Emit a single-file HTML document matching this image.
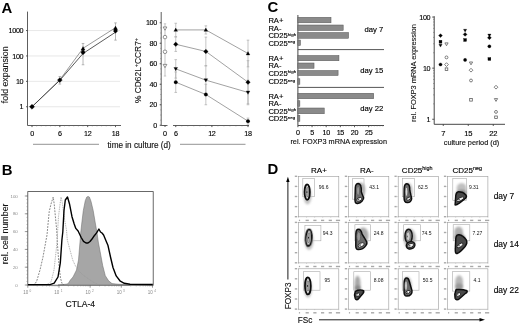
<!DOCTYPE html>
<html><head><meta charset="utf-8"><style>
html,body{margin:0;padding:0;background:#fff;}
svg{display:block;filter:blur(0.3px);font-family:"Liberation Sans", sans-serif;}
</style></head><body>
<svg width="520" height="324" viewBox="0 0 520 324">
<rect width="520" height="324" fill="#fff"/>
<text x="1.40" y="12.60" font-size="14.9" text-anchor="start" font-weight="bold" fill="#000" >A</text>
<line x1="27.50" y1="106.75" x2="120.00" y2="106.75" stroke="#d8d8d8" stroke-width="0.6" />
<line x1="27.50" y1="81.35" x2="120.00" y2="81.35" stroke="#d8d8d8" stroke-width="0.6" />
<line x1="27.50" y1="55.95" x2="120.00" y2="55.95" stroke="#d8d8d8" stroke-width="0.6" />
<line x1="27.50" y1="30.55" x2="120.00" y2="30.55" stroke="#d8d8d8" stroke-width="0.6" />
<line x1="27.50" y1="11.60" x2="27.50" y2="125.50" stroke="#555" stroke-width="0.95" />
<line x1="27.50" y1="125.50" x2="121.00" y2="125.50" stroke="#555" stroke-width="0.95" />
<line x1="26.00" y1="106.75" x2="27.50" y2="106.75" stroke="#333" stroke-width="0.8" />
<text x="23.30" y="109.35" font-size="7.2" text-anchor="end" font-weight="normal" fill="#000" stroke="#000" stroke-width="0.14" letter-spacing="-0.3">1</text>
<line x1="26.00" y1="81.35" x2="27.50" y2="81.35" stroke="#333" stroke-width="0.8" />
<text x="23.30" y="83.95" font-size="7.2" text-anchor="end" font-weight="normal" fill="#000" stroke="#000" stroke-width="0.14" letter-spacing="-0.3">10</text>
<line x1="26.00" y1="55.95" x2="27.50" y2="55.95" stroke="#333" stroke-width="0.8" />
<text x="23.30" y="58.55" font-size="7.2" text-anchor="end" font-weight="normal" fill="#000" stroke="#000" stroke-width="0.14" letter-spacing="-0.3">100</text>
<line x1="26.00" y1="30.55" x2="27.50" y2="30.55" stroke="#333" stroke-width="0.8" />
<text x="23.30" y="33.15" font-size="7.2" text-anchor="end" font-weight="normal" fill="#000" stroke="#000" stroke-width="0.14" letter-spacing="-0.3">1000</text>
<line x1="32.00" y1="125.50" x2="32.00" y2="127.10" stroke="#333" stroke-width="0.8" />
<text x="32.00" y="136.20" font-size="7.2" text-anchor="middle" font-weight="normal" fill="#000" stroke="#000" stroke-width="0.14" letter-spacing="-0.3">0</text>
<line x1="59.83" y1="125.50" x2="59.83" y2="127.10" stroke="#333" stroke-width="0.8" />
<text x="59.83" y="136.20" font-size="7.2" text-anchor="middle" font-weight="normal" fill="#000" stroke="#000" stroke-width="0.14" letter-spacing="-0.3">6</text>
<line x1="87.67" y1="125.50" x2="87.67" y2="127.10" stroke="#333" stroke-width="0.8" />
<text x="87.67" y="136.20" font-size="7.2" text-anchor="middle" font-weight="normal" fill="#000" stroke="#000" stroke-width="0.14" letter-spacing="-0.3">12</text>
<line x1="115.50" y1="125.50" x2="115.50" y2="127.10" stroke="#333" stroke-width="0.8" />
<text x="115.50" y="136.20" font-size="7.2" text-anchor="middle" font-weight="normal" fill="#000" stroke="#000" stroke-width="0.14" letter-spacing="-0.3">18</text>
<line x1="32.00" y1="125.50" x2="32.00" y2="126.40" stroke="#666" stroke-width="0.5" />
<line x1="36.64" y1="125.50" x2="36.64" y2="126.40" stroke="#666" stroke-width="0.5" />
<line x1="41.28" y1="125.50" x2="41.28" y2="126.40" stroke="#666" stroke-width="0.5" />
<line x1="45.92" y1="125.50" x2="45.92" y2="126.40" stroke="#666" stroke-width="0.5" />
<line x1="50.56" y1="125.50" x2="50.56" y2="126.40" stroke="#666" stroke-width="0.5" />
<line x1="55.19" y1="125.50" x2="55.19" y2="126.40" stroke="#666" stroke-width="0.5" />
<line x1="59.83" y1="125.50" x2="59.83" y2="126.40" stroke="#666" stroke-width="0.5" />
<line x1="64.47" y1="125.50" x2="64.47" y2="126.40" stroke="#666" stroke-width="0.5" />
<line x1="69.11" y1="125.50" x2="69.11" y2="126.40" stroke="#666" stroke-width="0.5" />
<line x1="73.75" y1="125.50" x2="73.75" y2="126.40" stroke="#666" stroke-width="0.5" />
<line x1="78.39" y1="125.50" x2="78.39" y2="126.40" stroke="#666" stroke-width="0.5" />
<line x1="83.03" y1="125.50" x2="83.03" y2="126.40" stroke="#666" stroke-width="0.5" />
<line x1="87.67" y1="125.50" x2="87.67" y2="126.40" stroke="#666" stroke-width="0.5" />
<line x1="92.31" y1="125.50" x2="92.31" y2="126.40" stroke="#666" stroke-width="0.5" />
<line x1="96.94" y1="125.50" x2="96.94" y2="126.40" stroke="#666" stroke-width="0.5" />
<line x1="101.58" y1="125.50" x2="101.58" y2="126.40" stroke="#666" stroke-width="0.5" />
<line x1="106.22" y1="125.50" x2="106.22" y2="126.40" stroke="#666" stroke-width="0.5" />
<line x1="110.86" y1="125.50" x2="110.86" y2="126.40" stroke="#666" stroke-width="0.5" />
<line x1="115.50" y1="125.50" x2="115.50" y2="126.40" stroke="#666" stroke-width="0.5" />
<text x="0.00" y="0.00" font-size="1" text-anchor="start" font-weight="normal" fill="#000" ></text>
<text transform="translate(7.7,74.8) rotate(-90)" font-size="8.8" fill="#111" stroke="#111" stroke-width="0.1" text-anchor="middle">fold expansion</text>
<line x1="59.83" y1="76.52" x2="59.83" y2="84.09" stroke="#999" stroke-width="0.7" />
<line x1="58.53" y1="76.52" x2="61.13" y2="76.52" stroke="#999" stroke-width="0.7" />
<line x1="58.53" y1="84.09" x2="61.13" y2="84.09" stroke="#999" stroke-width="0.7" />
<line x1="83.03" y1="43.47" x2="83.03" y2="64.76" stroke="#999" stroke-width="0.7" />
<line x1="81.73" y1="43.47" x2="84.33" y2="43.47" stroke="#999" stroke-width="0.7" />
<line x1="81.73" y1="64.76" x2="84.33" y2="64.76" stroke="#999" stroke-width="0.7" />
<line x1="115.50" y1="22.90" x2="115.50" y2="40.12" stroke="#999" stroke-width="0.7" />
<line x1="114.20" y1="22.90" x2="116.80" y2="22.90" stroke="#999" stroke-width="0.7" />
<line x1="114.20" y1="40.12" x2="116.80" y2="40.12" stroke="#999" stroke-width="0.7" />
<path d="M32.00 106.75 L59.83 79.81 L83.03 48.30 L115.50 27.66" fill="none" stroke="#777" stroke-width="0.75"/>
<path d="M32.00 106.75 L59.83 80.30 L83.03 53.49 L115.50 32.21" fill="none" stroke="#222" stroke-width="0.75"/>
<path d="M32.00 104.15L34.60 106.75L32.00 109.35L29.40 106.75Z" fill="#000" stroke="#000" stroke-width="0.3"/>
<path d="M59.83 77.63L62.30 80.10L59.83 82.57L57.36 80.10Z" fill="#000" stroke="#000" stroke-width="0.3"/>
<path d="M83.03 46.58L85.03 50.08L81.03 50.08Z" fill="#000" stroke="#000" stroke-width="0.3"/>
<path d="M83.03 50.43L85.24 52.64L83.03 54.85L80.82 52.64Z" fill="#000" stroke="#000" stroke-width="0.3"/>
<circle cx="83.03" cy="51.48" r="1.50" fill="#000" stroke="#000" stroke-width="0.3"/>
<path d="M115.50 26.09L117.50 29.59L113.50 29.59Z" fill="#000" stroke="#000" stroke-width="0.3"/>
<path d="M115.50 28.91L117.71 31.12L115.50 33.33L113.29 31.12Z" fill="#000" stroke="#000" stroke-width="0.3"/>
<circle cx="115.50" cy="30.01" r="1.50" fill="#000" stroke="#000" stroke-width="0.3"/>
<line x1="161.20" y1="12.00" x2="161.20" y2="125.50" stroke="#555" stroke-width="0.95" />
<line x1="161.20" y1="125.50" x2="167.50" y2="125.50" stroke="#555" stroke-width="0.95" />
<line x1="173.00" y1="125.50" x2="249.00" y2="125.50" stroke="#555" stroke-width="0.95" />
<line x1="159.70" y1="125.25" x2="161.20" y2="125.25" stroke="#333" stroke-width="0.8" />
<text x="157.00" y="127.85" font-size="7.2" text-anchor="end" font-weight="normal" fill="#000" stroke="#000" stroke-width="0.14" letter-spacing="-0.3">0</text>
<line x1="159.70" y1="104.75" x2="161.20" y2="104.75" stroke="#333" stroke-width="0.8" />
<text x="157.00" y="107.35" font-size="7.2" text-anchor="end" font-weight="normal" fill="#000" stroke="#000" stroke-width="0.14" letter-spacing="-0.3">20</text>
<line x1="159.70" y1="84.25" x2="161.20" y2="84.25" stroke="#333" stroke-width="0.8" />
<text x="157.00" y="86.85" font-size="7.2" text-anchor="end" font-weight="normal" fill="#000" stroke="#000" stroke-width="0.14" letter-spacing="-0.3">40</text>
<line x1="159.70" y1="63.75" x2="161.20" y2="63.75" stroke="#333" stroke-width="0.8" />
<text x="157.00" y="66.35" font-size="7.2" text-anchor="end" font-weight="normal" fill="#000" stroke="#000" stroke-width="0.14" letter-spacing="-0.3">60</text>
<line x1="159.70" y1="43.25" x2="161.20" y2="43.25" stroke="#333" stroke-width="0.8" />
<text x="157.00" y="45.85" font-size="7.2" text-anchor="end" font-weight="normal" fill="#000" stroke="#000" stroke-width="0.14" letter-spacing="-0.3">80</text>
<line x1="159.70" y1="22.75" x2="161.20" y2="22.75" stroke="#333" stroke-width="0.8" />
<text x="157.00" y="25.35" font-size="7.2" text-anchor="end" font-weight="normal" fill="#000" stroke="#000" stroke-width="0.14" letter-spacing="-0.3">100</text>
<line x1="160.30" y1="125.25" x2="161.20" y2="125.25" stroke="#666" stroke-width="0.5" />
<line x1="160.30" y1="120.12" x2="161.20" y2="120.12" stroke="#666" stroke-width="0.5" />
<line x1="160.30" y1="115.00" x2="161.20" y2="115.00" stroke="#666" stroke-width="0.5" />
<line x1="160.30" y1="109.88" x2="161.20" y2="109.88" stroke="#666" stroke-width="0.5" />
<line x1="160.30" y1="104.75" x2="161.20" y2="104.75" stroke="#666" stroke-width="0.5" />
<line x1="160.30" y1="99.62" x2="161.20" y2="99.62" stroke="#666" stroke-width="0.5" />
<line x1="160.30" y1="94.50" x2="161.20" y2="94.50" stroke="#666" stroke-width="0.5" />
<line x1="160.30" y1="89.38" x2="161.20" y2="89.38" stroke="#666" stroke-width="0.5" />
<line x1="160.30" y1="84.25" x2="161.20" y2="84.25" stroke="#666" stroke-width="0.5" />
<line x1="160.30" y1="79.12" x2="161.20" y2="79.12" stroke="#666" stroke-width="0.5" />
<line x1="160.30" y1="74.00" x2="161.20" y2="74.00" stroke="#666" stroke-width="0.5" />
<line x1="160.30" y1="68.88" x2="161.20" y2="68.88" stroke="#666" stroke-width="0.5" />
<line x1="160.30" y1="63.75" x2="161.20" y2="63.75" stroke="#666" stroke-width="0.5" />
<line x1="160.30" y1="58.62" x2="161.20" y2="58.62" stroke="#666" stroke-width="0.5" />
<line x1="160.30" y1="53.50" x2="161.20" y2="53.50" stroke="#666" stroke-width="0.5" />
<line x1="160.30" y1="48.38" x2="161.20" y2="48.38" stroke="#666" stroke-width="0.5" />
<line x1="160.30" y1="43.25" x2="161.20" y2="43.25" stroke="#666" stroke-width="0.5" />
<line x1="160.30" y1="38.12" x2="161.20" y2="38.12" stroke="#666" stroke-width="0.5" />
<line x1="160.30" y1="33.00" x2="161.20" y2="33.00" stroke="#666" stroke-width="0.5" />
<line x1="160.30" y1="27.88" x2="161.20" y2="27.88" stroke="#666" stroke-width="0.5" />
<line x1="160.30" y1="22.75" x2="161.20" y2="22.75" stroke="#666" stroke-width="0.5" />
<line x1="165.00" y1="125.50" x2="165.00" y2="127.00" stroke="#333" stroke-width="0.8" />
<text x="165.00" y="136.20" font-size="7.2" text-anchor="middle" font-weight="normal" fill="#000" stroke="#000" stroke-width="0.14" >0</text>
<line x1="175.75" y1="125.50" x2="175.75" y2="127.10" stroke="#333" stroke-width="0.8" />
<text x="175.75" y="136.20" font-size="7.2" text-anchor="middle" font-weight="normal" fill="#000" stroke="#000" stroke-width="0.14" letter-spacing="-0.3">6</text>
<line x1="211.88" y1="125.50" x2="211.88" y2="127.10" stroke="#333" stroke-width="0.8" />
<text x="211.88" y="136.20" font-size="7.2" text-anchor="middle" font-weight="normal" fill="#000" stroke="#000" stroke-width="0.14" letter-spacing="-0.3">12</text>
<line x1="248.00" y1="125.50" x2="248.00" y2="127.10" stroke="#333" stroke-width="0.8" />
<text x="248.00" y="136.20" font-size="7.2" text-anchor="middle" font-weight="normal" fill="#000" stroke="#000" stroke-width="0.14" letter-spacing="-0.3">18</text>
<line x1="175.75" y1="125.50" x2="175.75" y2="126.40" stroke="#666" stroke-width="0.5" />
<line x1="181.77" y1="125.50" x2="181.77" y2="126.40" stroke="#666" stroke-width="0.5" />
<line x1="187.79" y1="125.50" x2="187.79" y2="126.40" stroke="#666" stroke-width="0.5" />
<line x1="193.81" y1="125.50" x2="193.81" y2="126.40" stroke="#666" stroke-width="0.5" />
<line x1="199.83" y1="125.50" x2="199.83" y2="126.40" stroke="#666" stroke-width="0.5" />
<line x1="205.85" y1="125.50" x2="205.85" y2="126.40" stroke="#666" stroke-width="0.5" />
<line x1="211.88" y1="125.50" x2="211.88" y2="126.40" stroke="#666" stroke-width="0.5" />
<line x1="217.90" y1="125.50" x2="217.90" y2="126.40" stroke="#666" stroke-width="0.5" />
<line x1="223.92" y1="125.50" x2="223.92" y2="126.40" stroke="#666" stroke-width="0.5" />
<line x1="229.94" y1="125.50" x2="229.94" y2="126.40" stroke="#666" stroke-width="0.5" />
<line x1="235.96" y1="125.50" x2="235.96" y2="126.40" stroke="#666" stroke-width="0.5" />
<line x1="241.98" y1="125.50" x2="241.98" y2="126.40" stroke="#666" stroke-width="0.5" />
<line x1="248.00" y1="125.50" x2="248.00" y2="126.40" stroke="#666" stroke-width="0.5" />
<text transform="translate(141.3,70.5) rotate(-90)" font-size="8.4" fill="#111" stroke="#111" stroke-width="0.1" text-anchor="middle">% CD62L<tspan font-size="5.5" dy="-3">+</tspan><tspan dy="3">CCR7</tspan><tspan font-size="5.5" dy="-3">+</tspan></text>
<line x1="175.75" y1="23.26" x2="175.75" y2="36.59" stroke="#aaa" stroke-width="0.7" />
<line x1="174.45" y1="23.26" x2="177.05" y2="23.26" stroke="#aaa" stroke-width="0.7" />
<line x1="174.45" y1="36.59" x2="177.05" y2="36.59" stroke="#aaa" stroke-width="0.7" />
<line x1="205.85" y1="25.83" x2="205.85" y2="34.03" stroke="#aaa" stroke-width="0.7" />
<line x1="204.55" y1="25.83" x2="207.15" y2="25.83" stroke="#aaa" stroke-width="0.7" />
<line x1="204.55" y1="34.03" x2="207.15" y2="34.03" stroke="#aaa" stroke-width="0.7" />
<line x1="248.00" y1="40.17" x2="248.00" y2="66.83" stroke="#aaa" stroke-width="0.7" />
<line x1="246.70" y1="40.17" x2="249.30" y2="40.17" stroke="#aaa" stroke-width="0.7" />
<line x1="246.70" y1="66.83" x2="249.30" y2="66.83" stroke="#aaa" stroke-width="0.7" />
<line x1="175.75" y1="37.10" x2="175.75" y2="51.45" stroke="#aaa" stroke-width="0.7" />
<line x1="174.45" y1="37.10" x2="177.05" y2="37.10" stroke="#aaa" stroke-width="0.7" />
<line x1="174.45" y1="51.45" x2="177.05" y2="51.45" stroke="#aaa" stroke-width="0.7" />
<line x1="205.85" y1="37.10" x2="205.85" y2="65.80" stroke="#aaa" stroke-width="0.7" />
<line x1="204.55" y1="37.10" x2="207.15" y2="37.10" stroke="#aaa" stroke-width="0.7" />
<line x1="204.55" y1="65.80" x2="207.15" y2="65.80" stroke="#aaa" stroke-width="0.7" />
<line x1="248.00" y1="60.67" x2="248.00" y2="103.72" stroke="#aaa" stroke-width="0.7" />
<line x1="246.70" y1="60.67" x2="249.30" y2="60.67" stroke="#aaa" stroke-width="0.7" />
<line x1="246.70" y1="103.72" x2="249.30" y2="103.72" stroke="#aaa" stroke-width="0.7" />
<line x1="175.75" y1="59.65" x2="175.75" y2="78.10" stroke="#aaa" stroke-width="0.7" />
<line x1="174.45" y1="59.65" x2="177.05" y2="59.65" stroke="#aaa" stroke-width="0.7" />
<line x1="174.45" y1="78.10" x2="177.05" y2="78.10" stroke="#aaa" stroke-width="0.7" />
<line x1="205.85" y1="65.80" x2="205.85" y2="94.50" stroke="#aaa" stroke-width="0.7" />
<line x1="204.55" y1="65.80" x2="207.15" y2="65.80" stroke="#aaa" stroke-width="0.7" />
<line x1="204.55" y1="94.50" x2="207.15" y2="94.50" stroke="#aaa" stroke-width="0.7" />
<line x1="248.00" y1="80.15" x2="248.00" y2="104.75" stroke="#aaa" stroke-width="0.7" />
<line x1="246.70" y1="80.15" x2="249.30" y2="80.15" stroke="#aaa" stroke-width="0.7" />
<line x1="246.70" y1="104.75" x2="249.30" y2="104.75" stroke="#aaa" stroke-width="0.7" />
<line x1="175.75" y1="71.95" x2="175.75" y2="92.45" stroke="#aaa" stroke-width="0.7" />
<line x1="174.45" y1="71.95" x2="177.05" y2="71.95" stroke="#aaa" stroke-width="0.7" />
<line x1="174.45" y1="92.45" x2="177.05" y2="92.45" stroke="#aaa" stroke-width="0.7" />
<line x1="205.85" y1="84.25" x2="205.85" y2="104.75" stroke="#aaa" stroke-width="0.7" />
<line x1="204.55" y1="84.25" x2="207.15" y2="84.25" stroke="#aaa" stroke-width="0.7" />
<line x1="204.55" y1="104.75" x2="207.15" y2="104.75" stroke="#aaa" stroke-width="0.7" />
<line x1="248.00" y1="118.08" x2="248.00" y2="124.22" stroke="#aaa" stroke-width="0.7" />
<line x1="246.70" y1="118.08" x2="249.30" y2="118.08" stroke="#aaa" stroke-width="0.7" />
<line x1="246.70" y1="124.22" x2="249.30" y2="124.22" stroke="#aaa" stroke-width="0.7" />
<path d="M175.75 29.92 L205.85 29.92 L248.00 53.50" fill="none" stroke="#8a8a8a" stroke-width="0.8"/>
<path d="M175.75 44.28 L205.85 51.45 L248.00 82.20" fill="none" stroke="#8a8a8a" stroke-width="0.8"/>
<path d="M175.75 68.88 L205.85 80.15 L248.00 92.45" fill="none" stroke="#8a8a8a" stroke-width="0.8"/>
<path d="M175.75 82.20 L205.85 94.50 L248.00 121.15" fill="none" stroke="#8a8a8a" stroke-width="0.8"/>
<path d="M175.75 28.05L177.62 31.33L173.88 31.33Z" fill="#000" stroke="#000" stroke-width="0.3"/>
<path d="M205.85 28.05L207.73 31.33L203.98 31.33Z" fill="#000" stroke="#000" stroke-width="0.3"/>
<path d="M248.00 51.62L249.88 54.91L246.12 54.91Z" fill="#000" stroke="#000" stroke-width="0.3"/>
<path d="M175.75 42.00L178.03 44.28L175.75 46.55L173.47 44.28Z" fill="#000" stroke="#000" stroke-width="0.3"/>
<path d="M205.85 49.18L208.13 51.45L205.85 53.73L203.58 51.45Z" fill="#000" stroke="#000" stroke-width="0.3"/>
<path d="M248.00 79.92L250.28 82.20L248.00 84.48L245.72 82.20Z" fill="#000" stroke="#000" stroke-width="0.3"/>
<path d="M175.75 70.75L177.62 67.47L173.88 67.47Z" fill="#000" stroke="#000" stroke-width="0.3"/>
<path d="M205.85 82.03L207.73 78.74L203.98 78.74Z" fill="#000" stroke="#000" stroke-width="0.3"/>
<path d="M248.00 94.33L249.88 91.04L246.12 91.04Z" fill="#000" stroke="#000" stroke-width="0.3"/>
<circle cx="175.75" cy="82.20" r="1.75" fill="#000" stroke="#000" stroke-width="0.3"/>
<circle cx="205.85" cy="94.50" r="1.75" fill="#000" stroke="#000" stroke-width="0.3"/>
<circle cx="248.00" cy="121.15" r="1.75" fill="#000" stroke="#000" stroke-width="0.3"/>
<line x1="165.00" y1="23.78" x2="165.00" y2="76.05" stroke="#aaa" stroke-width="0.7" />
<line x1="163.80" y1="23.78" x2="166.20" y2="23.78" stroke="#aaa" stroke-width="0.6" />
<line x1="163.80" y1="76.05" x2="166.20" y2="76.05" stroke="#aaa" stroke-width="0.6" />
<path d="M165.00 30.26L166.88 26.98L163.12 26.98Z" fill="#fff" stroke="#666" stroke-width="0.7"/>
<circle cx="165.00" cy="37.10" r="1.80" fill="#fff" stroke="#666" stroke-width="0.7"/>
<circle cx="165.00" cy="51.76" r="1.80" fill="#fff" stroke="#666" stroke-width="0.7"/>
<path d="M165.00 67.67L166.88 64.39L163.12 64.39Z" fill="#fff" stroke="#666" stroke-width="0.7"/>
<line x1="33.00" y1="144.30" x2="99.00" y2="144.30" stroke="#777" stroke-width="0.8" />
<line x1="180.00" y1="144.30" x2="245.50" y2="144.30" stroke="#777" stroke-width="0.8" />
<text x="139.20" y="147.60" font-size="8.2" text-anchor="middle" font-weight="normal" fill="#111" stroke="#111" stroke-width="0.14" >time in culture (d)</text>
<text x="1.80" y="175.30" font-size="14.9" text-anchor="start" font-weight="bold" fill="#000" >B</text>
<rect x="27.8" y="191.6" width="125.39999999999999" height="93.6" fill="none" stroke="#444" stroke-width="0.8"/>
<line x1="24.80" y1="285.00" x2="27.80" y2="285.00" stroke="#555" stroke-width="0.6" />
<text x="17.80" y="286.60" font-size="4.4" text-anchor="end" font-weight="normal" fill="#888" >0</text>
<line x1="24.80" y1="267.20" x2="27.80" y2="267.20" stroke="#555" stroke-width="0.6" />
<text x="17.80" y="268.80" font-size="4.4" text-anchor="end" font-weight="normal" fill="#888" >20</text>
<line x1="24.80" y1="249.40" x2="27.80" y2="249.40" stroke="#555" stroke-width="0.6" />
<text x="17.80" y="251.00" font-size="4.4" text-anchor="end" font-weight="normal" fill="#888" >40</text>
<line x1="24.80" y1="231.60" x2="27.80" y2="231.60" stroke="#555" stroke-width="0.6" />
<text x="17.80" y="233.20" font-size="4.4" text-anchor="end" font-weight="normal" fill="#888" >60</text>
<line x1="24.80" y1="213.80" x2="27.80" y2="213.80" stroke="#555" stroke-width="0.6" />
<text x="17.80" y="215.40" font-size="4.4" text-anchor="end" font-weight="normal" fill="#888" >80</text>
<line x1="24.80" y1="196.00" x2="27.80" y2="196.00" stroke="#555" stroke-width="0.6" />
<text x="17.80" y="197.60" font-size="4.4" text-anchor="end" font-weight="normal" fill="#888" >100</text>
<line x1="26.30" y1="285.00" x2="27.80" y2="285.00" stroke="#777" stroke-width="0.4" />
<line x1="26.30" y1="281.44" x2="27.80" y2="281.44" stroke="#777" stroke-width="0.4" />
<line x1="26.30" y1="277.88" x2="27.80" y2="277.88" stroke="#777" stroke-width="0.4" />
<line x1="26.30" y1="274.32" x2="27.80" y2="274.32" stroke="#777" stroke-width="0.4" />
<line x1="26.30" y1="270.76" x2="27.80" y2="270.76" stroke="#777" stroke-width="0.4" />
<line x1="26.30" y1="267.20" x2="27.80" y2="267.20" stroke="#777" stroke-width="0.4" />
<line x1="26.30" y1="263.64" x2="27.80" y2="263.64" stroke="#777" stroke-width="0.4" />
<line x1="26.30" y1="260.08" x2="27.80" y2="260.08" stroke="#777" stroke-width="0.4" />
<line x1="26.30" y1="256.52" x2="27.80" y2="256.52" stroke="#777" stroke-width="0.4" />
<line x1="26.30" y1="252.96" x2="27.80" y2="252.96" stroke="#777" stroke-width="0.4" />
<line x1="26.30" y1="249.40" x2="27.80" y2="249.40" stroke="#777" stroke-width="0.4" />
<line x1="26.30" y1="245.84" x2="27.80" y2="245.84" stroke="#777" stroke-width="0.4" />
<line x1="26.30" y1="242.28" x2="27.80" y2="242.28" stroke="#777" stroke-width="0.4" />
<line x1="26.30" y1="238.72" x2="27.80" y2="238.72" stroke="#777" stroke-width="0.4" />
<line x1="26.30" y1="235.16" x2="27.80" y2="235.16" stroke="#777" stroke-width="0.4" />
<line x1="26.30" y1="231.60" x2="27.80" y2="231.60" stroke="#777" stroke-width="0.4" />
<line x1="26.30" y1="228.04" x2="27.80" y2="228.04" stroke="#777" stroke-width="0.4" />
<line x1="26.30" y1="224.48" x2="27.80" y2="224.48" stroke="#777" stroke-width="0.4" />
<line x1="26.30" y1="220.92" x2="27.80" y2="220.92" stroke="#777" stroke-width="0.4" />
<line x1="26.30" y1="217.36" x2="27.80" y2="217.36" stroke="#777" stroke-width="0.4" />
<line x1="26.30" y1="213.80" x2="27.80" y2="213.80" stroke="#777" stroke-width="0.4" />
<line x1="26.30" y1="210.24" x2="27.80" y2="210.24" stroke="#777" stroke-width="0.4" />
<line x1="26.30" y1="206.68" x2="27.80" y2="206.68" stroke="#777" stroke-width="0.4" />
<line x1="26.30" y1="203.12" x2="27.80" y2="203.12" stroke="#777" stroke-width="0.4" />
<line x1="26.30" y1="199.56" x2="27.80" y2="199.56" stroke="#777" stroke-width="0.4" />
<line x1="26.30" y1="196.00" x2="27.80" y2="196.00" stroke="#777" stroke-width="0.4" />
<line x1="27.80" y1="285.20" x2="27.80" y2="287.70" stroke="#555" stroke-width="0.6" />
<text x="27.20" y="293.60" font-size="4.5" text-anchor="middle" fill="#888">10<tspan font-size="3.1" dx="1.4" dy="-1.9">0</tspan></text>
<line x1="37.18" y1="285.20" x2="37.18" y2="286.50" stroke="#777" stroke-width="0.4" />
<line x1="42.67" y1="285.20" x2="42.67" y2="286.50" stroke="#777" stroke-width="0.4" />
<line x1="46.57" y1="285.20" x2="46.57" y2="286.50" stroke="#777" stroke-width="0.4" />
<line x1="49.59" y1="285.20" x2="49.59" y2="286.50" stroke="#777" stroke-width="0.4" />
<line x1="52.06" y1="285.20" x2="52.06" y2="286.50" stroke="#777" stroke-width="0.4" />
<line x1="54.15" y1="285.20" x2="54.15" y2="286.50" stroke="#777" stroke-width="0.4" />
<line x1="55.95" y1="285.20" x2="55.95" y2="286.50" stroke="#777" stroke-width="0.4" />
<line x1="57.55" y1="285.20" x2="57.55" y2="286.50" stroke="#777" stroke-width="0.4" />
<line x1="58.98" y1="285.20" x2="58.98" y2="287.70" stroke="#555" stroke-width="0.6" />
<text x="58.38" y="293.60" font-size="4.5" text-anchor="middle" fill="#888">10<tspan font-size="3.1" dx="1.4" dy="-1.9">1</tspan></text>
<line x1="68.36" y1="285.20" x2="68.36" y2="286.50" stroke="#777" stroke-width="0.4" />
<line x1="73.85" y1="285.20" x2="73.85" y2="286.50" stroke="#777" stroke-width="0.4" />
<line x1="77.74" y1="285.20" x2="77.74" y2="286.50" stroke="#777" stroke-width="0.4" />
<line x1="80.77" y1="285.20" x2="80.77" y2="286.50" stroke="#777" stroke-width="0.4" />
<line x1="83.23" y1="285.20" x2="83.23" y2="286.50" stroke="#777" stroke-width="0.4" />
<line x1="85.32" y1="285.20" x2="85.32" y2="286.50" stroke="#777" stroke-width="0.4" />
<line x1="87.13" y1="285.20" x2="87.13" y2="286.50" stroke="#777" stroke-width="0.4" />
<line x1="88.72" y1="285.20" x2="88.72" y2="286.50" stroke="#777" stroke-width="0.4" />
<line x1="90.15" y1="285.20" x2="90.15" y2="287.70" stroke="#555" stroke-width="0.6" />
<text x="89.55" y="293.60" font-size="4.5" text-anchor="middle" fill="#888">10<tspan font-size="3.1" dx="1.4" dy="-1.9">2</tspan></text>
<line x1="99.53" y1="285.20" x2="99.53" y2="286.50" stroke="#777" stroke-width="0.4" />
<line x1="105.02" y1="285.20" x2="105.02" y2="286.50" stroke="#777" stroke-width="0.4" />
<line x1="108.92" y1="285.20" x2="108.92" y2="286.50" stroke="#777" stroke-width="0.4" />
<line x1="111.94" y1="285.20" x2="111.94" y2="286.50" stroke="#777" stroke-width="0.4" />
<line x1="114.41" y1="285.20" x2="114.41" y2="286.50" stroke="#777" stroke-width="0.4" />
<line x1="116.50" y1="285.20" x2="116.50" y2="286.50" stroke="#777" stroke-width="0.4" />
<line x1="118.30" y1="285.20" x2="118.30" y2="286.50" stroke="#777" stroke-width="0.4" />
<line x1="119.90" y1="285.20" x2="119.90" y2="286.50" stroke="#777" stroke-width="0.4" />
<line x1="121.33" y1="285.20" x2="121.33" y2="287.70" stroke="#555" stroke-width="0.6" />
<text x="120.73" y="293.60" font-size="4.5" text-anchor="middle" fill="#888">10<tspan font-size="3.1" dx="1.4" dy="-1.9">3</tspan></text>
<line x1="130.71" y1="285.20" x2="130.71" y2="286.50" stroke="#777" stroke-width="0.4" />
<line x1="136.20" y1="285.20" x2="136.20" y2="286.50" stroke="#777" stroke-width="0.4" />
<line x1="140.09" y1="285.20" x2="140.09" y2="286.50" stroke="#777" stroke-width="0.4" />
<line x1="143.12" y1="285.20" x2="143.12" y2="286.50" stroke="#777" stroke-width="0.4" />
<line x1="145.58" y1="285.20" x2="145.58" y2="286.50" stroke="#777" stroke-width="0.4" />
<line x1="147.67" y1="285.20" x2="147.67" y2="286.50" stroke="#777" stroke-width="0.4" />
<line x1="149.48" y1="285.20" x2="149.48" y2="286.50" stroke="#777" stroke-width="0.4" />
<line x1="151.07" y1="285.20" x2="151.07" y2="286.50" stroke="#777" stroke-width="0.4" />
<line x1="152.50" y1="285.20" x2="152.50" y2="287.70" stroke="#555" stroke-width="0.6" />
<text x="151.90" y="293.60" font-size="4.5" text-anchor="middle" fill="#888">10<tspan font-size="3.1" dx="1.4" dy="-1.9">4</tspan></text>
<text transform="translate(7.9,233.8) rotate(-90)" font-size="8.9" fill="#111" stroke="#111" stroke-width="0.1" text-anchor="middle">rel. cell number</text>
<text x="80.30" y="306.80" font-size="8.6" text-anchor="middle" font-weight="normal" fill="#111" stroke="#111" stroke-width="0.14" transform="translate(80.3,306.8) scale(1,1.1) translate(-80.3,-306.8)">CTLA-4</text>
<path d="M58.00 285.00 L62.00 284.60 L66.00 284.20 L68.00 283.80 L70.40 280.00 L73.00 277.00 L76.50 270.00 L78.50 260.00 L80.00 242.00 L80.80 232.00 L81.80 223.00 L83.30 210.50 L85.30 200.50 L86.80 197.00 L88.10 196.40 L89.40 197.00 L91.00 201.30 L93.20 210.50 L95.30 223.00 L96.90 232.00 L98.30 242.00 L100.20 252.00 L102.70 265.50 L105.30 275.70 L108.60 280.80 L112.00 283.60 L118.00 284.20 L126.00 284.60 L130.00 285.00 Z" fill="#a6a6a6" stroke="#666" stroke-width="0.5"/>
<path d="M33.00 285.00 L35.00 284.00 L36.80 280.80 L40.00 270.00 L43.00 257.00 L47.00 235.00 L49.20 211.70 L51.00 204.00 L53.20 197.00 L54.20 204.00 L55.40 216.70 L56.60 229.00 L57.50 245.00 L59.00 265.00 L60.50 278.00 L62.00 283.50 L64.00 285.00" fill="none" stroke="#666" stroke-width="0.8" stroke-dasharray="1.8 1.2"/>
<path d="M45.00 285.00 L48.00 284.00 L51.10 281.70 L54.00 270.00 L56.00 252.00 L57.30 240.00 L57.60 232.00 L58.50 216.70 L59.70 206.80 L61.00 197.00 L62.20 201.90 L63.50 212.00 L65.00 222.00 L66.50 230.00 L67.30 240.00 L70.00 250.00 L72.70 260.00 L75.50 266.00 L78.90 271.00 L83.00 275.00 L88.10 278.60 L93.00 282.00 L98.00 284.50" fill="none" stroke="#999" stroke-width="0.8" stroke-dasharray="1 0.8"/>
<path d="M28.00 284.60 L50.00 284.60 L54.20 283.20 L58.00 277.00 L60.30 263.00 L61.90 240.00 L62.80 232.00 L64.00 210.50 L65.30 200.00 L67.50 197.00 L69.60 204.30 L72.00 216.70 L74.20 224.00 L75.80 228.40 L78.10 231.00 L81.20 237.50 L83.50 241.40 L86.00 243.00 L88.00 243.00 L90.00 241.50 L92.00 239.00 L93.50 236.80 L96.60 232.90 L98.90 229.00 L100.50 232.00 L102.00 233.00 L103.60 235.00 L106.50 242.00 L108.00 245.60 L110.50 257.00 L113.00 267.50 L116.20 275.90 L120.30 281.20 L124.30 283.30 L130.00 284.20 L152.80 284.50" fill="none" stroke="#000" stroke-width="1.4" stroke-linejoin="round"/>
<text x="267.60" y="12.40" font-size="14.9" text-anchor="start" font-weight="bold" fill="#000" >C</text>
<line x1="297.90" y1="15.00" x2="297.90" y2="125.50" stroke="#333" stroke-width="0.9" />
<line x1="297.90" y1="125.50" x2="384.00" y2="125.50" stroke="#333" stroke-width="0.9" />
<line x1="297.90" y1="125.50" x2="297.90" y2="127.20" stroke="#333" stroke-width="0.8" />
<text x="297.90" y="135.20" font-size="7.2" text-anchor="middle" font-weight="normal" fill="#000" stroke="#000" stroke-width="0.14" letter-spacing="-0.3">0</text>
<line x1="312.05" y1="125.50" x2="312.05" y2="127.20" stroke="#333" stroke-width="0.8" />
<text x="312.05" y="135.20" font-size="7.2" text-anchor="middle" font-weight="normal" fill="#000" stroke="#000" stroke-width="0.14" letter-spacing="-0.3">5</text>
<line x1="326.20" y1="125.50" x2="326.20" y2="127.20" stroke="#333" stroke-width="0.8" />
<text x="326.20" y="135.20" font-size="7.2" text-anchor="middle" font-weight="normal" fill="#000" stroke="#000" stroke-width="0.14" letter-spacing="-0.3">10</text>
<line x1="340.35" y1="125.50" x2="340.35" y2="127.20" stroke="#333" stroke-width="0.8" />
<text x="340.35" y="135.20" font-size="7.2" text-anchor="middle" font-weight="normal" fill="#000" stroke="#000" stroke-width="0.14" letter-spacing="-0.3">15</text>
<line x1="354.50" y1="125.50" x2="354.50" y2="127.20" stroke="#333" stroke-width="0.8" />
<text x="354.50" y="135.20" font-size="7.2" text-anchor="middle" font-weight="normal" fill="#000" stroke="#000" stroke-width="0.14" letter-spacing="-0.3">20</text>
<line x1="368.65" y1="125.50" x2="368.65" y2="127.20" stroke="#333" stroke-width="0.8" />
<text x="368.65" y="135.20" font-size="7.2" text-anchor="middle" font-weight="normal" fill="#000" stroke="#000" stroke-width="0.14" letter-spacing="-0.3">25</text>
<line x1="297.90" y1="125.50" x2="297.90" y2="126.40" stroke="#666" stroke-width="0.5" />
<line x1="300.73" y1="125.50" x2="300.73" y2="126.40" stroke="#666" stroke-width="0.5" />
<line x1="303.56" y1="125.50" x2="303.56" y2="126.40" stroke="#666" stroke-width="0.5" />
<line x1="306.39" y1="125.50" x2="306.39" y2="126.40" stroke="#666" stroke-width="0.5" />
<line x1="309.22" y1="125.50" x2="309.22" y2="126.40" stroke="#666" stroke-width="0.5" />
<line x1="312.05" y1="125.50" x2="312.05" y2="126.40" stroke="#666" stroke-width="0.5" />
<line x1="314.88" y1="125.50" x2="314.88" y2="126.40" stroke="#666" stroke-width="0.5" />
<line x1="317.71" y1="125.50" x2="317.71" y2="126.40" stroke="#666" stroke-width="0.5" />
<line x1="320.54" y1="125.50" x2="320.54" y2="126.40" stroke="#666" stroke-width="0.5" />
<line x1="323.37" y1="125.50" x2="323.37" y2="126.40" stroke="#666" stroke-width="0.5" />
<line x1="326.20" y1="125.50" x2="326.20" y2="126.40" stroke="#666" stroke-width="0.5" />
<line x1="329.03" y1="125.50" x2="329.03" y2="126.40" stroke="#666" stroke-width="0.5" />
<line x1="331.86" y1="125.50" x2="331.86" y2="126.40" stroke="#666" stroke-width="0.5" />
<line x1="334.69" y1="125.50" x2="334.69" y2="126.40" stroke="#666" stroke-width="0.5" />
<line x1="337.52" y1="125.50" x2="337.52" y2="126.40" stroke="#666" stroke-width="0.5" />
<line x1="340.35" y1="125.50" x2="340.35" y2="126.40" stroke="#666" stroke-width="0.5" />
<line x1="343.18" y1="125.50" x2="343.18" y2="126.40" stroke="#666" stroke-width="0.5" />
<line x1="346.01" y1="125.50" x2="346.01" y2="126.40" stroke="#666" stroke-width="0.5" />
<line x1="348.84" y1="125.50" x2="348.84" y2="126.40" stroke="#666" stroke-width="0.5" />
<line x1="351.67" y1="125.50" x2="351.67" y2="126.40" stroke="#666" stroke-width="0.5" />
<line x1="354.50" y1="125.50" x2="354.50" y2="126.40" stroke="#666" stroke-width="0.5" />
<line x1="357.33" y1="125.50" x2="357.33" y2="126.40" stroke="#666" stroke-width="0.5" />
<line x1="360.16" y1="125.50" x2="360.16" y2="126.40" stroke="#666" stroke-width="0.5" />
<line x1="362.99" y1="125.50" x2="362.99" y2="126.40" stroke="#666" stroke-width="0.5" />
<line x1="365.82" y1="125.50" x2="365.82" y2="126.40" stroke="#666" stroke-width="0.5" />
<line x1="368.65" y1="125.50" x2="368.65" y2="126.40" stroke="#666" stroke-width="0.5" />
<line x1="371.48" y1="125.50" x2="371.48" y2="126.40" stroke="#666" stroke-width="0.5" />
<line x1="374.31" y1="125.50" x2="374.31" y2="126.40" stroke="#666" stroke-width="0.5" />
<line x1="377.14" y1="125.50" x2="377.14" y2="126.40" stroke="#666" stroke-width="0.5" />
<line x1="379.97" y1="125.50" x2="379.97" y2="126.40" stroke="#666" stroke-width="0.5" />
<line x1="382.80" y1="125.50" x2="382.80" y2="126.40" stroke="#666" stroke-width="0.5" />
<text x="338.70" y="144.40" font-size="7.3" text-anchor="middle" font-weight="normal" fill="#111" stroke="#111" stroke-width="0.14" >rel. FOXP3 mRNA expression</text>
<line x1="297.90" y1="49.60" x2="384.00" y2="49.60" stroke="#555" stroke-width="1.0" />
<line x1="297.90" y1="87.40" x2="384.00" y2="87.40" stroke="#555" stroke-width="1.0" />
<rect x="297.90" y="17.30" width="33.11" height="5.50" fill="#8a8a8a" stroke="#555" stroke-width="0.5"/>
<text x="268.40" y="22.80" font-size="7.6" text-anchor="start" font-weight="normal" fill="#000" stroke="#000" stroke-width="0.14" >RA+</text>
<rect x="297.90" y="25.00" width="45.28" height="5.50" fill="#8a8a8a" stroke="#555" stroke-width="0.5"/>
<text x="268.40" y="30.50" font-size="7.6" text-anchor="start" font-weight="normal" fill="#000" stroke="#000" stroke-width="0.14" >RA-</text>
<rect x="297.90" y="32.50" width="50.66" height="5.75" fill="#8a8a8a" stroke="#555" stroke-width="0.5"/>
<text x="268.40" y="38.12" font-size="7.6" text-anchor="start" font-weight="normal" fill="#000" stroke="#000" stroke-width="0.14" >CD25<tspan font-size="4.4" dy="-2.5">high</tspan></text>
<rect x="297.90" y="40.00" width="2.55" height="5.50" fill="#8a8a8a" stroke="#555" stroke-width="0.5"/>
<text x="268.40" y="45.50" font-size="7.6" text-anchor="start" font-weight="normal" fill="#000" stroke="#000" stroke-width="0.14" >CD25<tspan font-size="4.4" dy="-2.5">neg</tspan></text>
<rect x="297.90" y="55.50" width="41.03" height="5.25" fill="#8a8a8a" stroke="#555" stroke-width="0.5"/>
<text x="268.40" y="60.88" font-size="7.6" text-anchor="start" font-weight="normal" fill="#000" stroke="#000" stroke-width="0.14" >RA+</text>
<rect x="297.90" y="63.00" width="16.13" height="5.25" fill="#8a8a8a" stroke="#555" stroke-width="0.5"/>
<text x="268.40" y="68.38" font-size="7.6" text-anchor="start" font-weight="normal" fill="#000" stroke="#000" stroke-width="0.14" >RA-</text>
<rect x="297.90" y="70.50" width="40.19" height="5.00" fill="#8a8a8a" stroke="#555" stroke-width="0.5"/>
<text x="268.40" y="75.75" font-size="7.6" text-anchor="start" font-weight="normal" fill="#000" stroke="#000" stroke-width="0.14" >CD25<tspan font-size="4.4" dy="-2.5">high</tspan></text>
<rect x="297.90" y="78.75" width="1.98" height="5.50" fill="#8a8a8a" stroke="#555" stroke-width="0.5"/>
<text x="268.40" y="84.25" font-size="7.6" text-anchor="start" font-weight="normal" fill="#000" stroke="#000" stroke-width="0.14" >CD25<tspan font-size="4.4" dy="-2.5">neg</tspan></text>
<rect x="297.90" y="93.25" width="75.84" height="5.50" fill="#8a8a8a" stroke="#555" stroke-width="0.5"/>
<text x="268.40" y="98.75" font-size="7.6" text-anchor="start" font-weight="normal" fill="#000" stroke="#000" stroke-width="0.14" >RA+</text>
<rect x="297.90" y="100.75" width="1.98" height="5.50" fill="#8a8a8a" stroke="#555" stroke-width="0.5"/>
<text x="268.40" y="106.25" font-size="7.6" text-anchor="start" font-weight="normal" fill="#000" stroke="#000" stroke-width="0.14" >RA-</text>
<rect x="297.90" y="108.00" width="26.32" height="5.75" fill="#8a8a8a" stroke="#555" stroke-width="0.5"/>
<text x="268.40" y="113.62" font-size="7.6" text-anchor="start" font-weight="normal" fill="#000" stroke="#000" stroke-width="0.14" >CD25<tspan font-size="4.4" dy="-2.5">high</tspan></text>
<rect x="297.90" y="115.50" width="1.98" height="5.75" fill="#8a8a8a" stroke="#555" stroke-width="0.5"/>
<text x="268.40" y="121.12" font-size="7.6" text-anchor="start" font-weight="normal" fill="#000" stroke="#000" stroke-width="0.14" >CD25<tspan font-size="4.4" dy="-2.5">neg</tspan></text>
<text x="364.50" y="32.40" font-size="7.7" text-anchor="start" font-weight="normal" fill="#000" stroke="#000" stroke-width="0.14" >day 7</text>
<text x="360.20" y="72.70" font-size="7.7" text-anchor="start" font-weight="normal" fill="#000" stroke="#000" stroke-width="0.14" >day 15</text>
<text x="360.20" y="110.80" font-size="7.7" text-anchor="start" font-weight="normal" fill="#000" stroke="#000" stroke-width="0.14" >day 22</text>
<line x1="434.20" y1="16.20" x2="434.20" y2="124.30" stroke="#333" stroke-width="0.9" />
<line x1="434.20" y1="124.30" x2="505.00" y2="124.30" stroke="#333" stroke-width="0.9" />
<line x1="432.20" y1="119.25" x2="434.20" y2="119.25" stroke="#333" stroke-width="0.8" />
<text x="430.30" y="121.85" font-size="7.2" text-anchor="end" font-weight="normal" fill="#000" stroke="#000" stroke-width="0.14" letter-spacing="-0.3">1</text>
<line x1="432.20" y1="68.15" x2="434.20" y2="68.15" stroke="#333" stroke-width="0.8" />
<text x="430.30" y="70.75" font-size="7.2" text-anchor="end" font-weight="normal" fill="#000" stroke="#000" stroke-width="0.14" letter-spacing="-0.3">10</text>
<line x1="432.20" y1="17.05" x2="434.20" y2="17.05" stroke="#333" stroke-width="0.8" />
<text x="430.30" y="19.65" font-size="7.2" text-anchor="end" font-weight="normal" fill="#000" stroke="#000" stroke-width="0.14" letter-spacing="-0.3">100</text>
<line x1="433.10" y1="103.87" x2="434.20" y2="103.87" stroke="#555" stroke-width="0.5" />
<line x1="433.10" y1="94.87" x2="434.20" y2="94.87" stroke="#555" stroke-width="0.5" />
<line x1="433.10" y1="88.48" x2="434.20" y2="88.48" stroke="#555" stroke-width="0.5" />
<line x1="433.10" y1="83.53" x2="434.20" y2="83.53" stroke="#555" stroke-width="0.5" />
<line x1="433.10" y1="79.49" x2="434.20" y2="79.49" stroke="#555" stroke-width="0.5" />
<line x1="433.10" y1="76.07" x2="434.20" y2="76.07" stroke="#555" stroke-width="0.5" />
<line x1="433.10" y1="73.10" x2="434.20" y2="73.10" stroke="#555" stroke-width="0.5" />
<line x1="433.10" y1="70.49" x2="434.20" y2="70.49" stroke="#555" stroke-width="0.5" />
<line x1="433.10" y1="52.77" x2="434.20" y2="52.77" stroke="#555" stroke-width="0.5" />
<line x1="433.10" y1="43.77" x2="434.20" y2="43.77" stroke="#555" stroke-width="0.5" />
<line x1="433.10" y1="37.38" x2="434.20" y2="37.38" stroke="#555" stroke-width="0.5" />
<line x1="433.10" y1="32.43" x2="434.20" y2="32.43" stroke="#555" stroke-width="0.5" />
<line x1="433.10" y1="28.39" x2="434.20" y2="28.39" stroke="#555" stroke-width="0.5" />
<line x1="433.10" y1="24.97" x2="434.20" y2="24.97" stroke="#555" stroke-width="0.5" />
<line x1="433.10" y1="22.00" x2="434.20" y2="22.00" stroke="#555" stroke-width="0.5" />
<line x1="433.10" y1="19.39" x2="434.20" y2="19.39" stroke="#555" stroke-width="0.5" />
<line x1="443.25" y1="124.30" x2="443.25" y2="126.00" stroke="#333" stroke-width="0.8" />
<text x="443.25" y="136.20" font-size="7.6" text-anchor="middle" font-weight="normal" fill="#000" stroke="#000" stroke-width="0.14" letter-spacing="-0.3">7</text>
<line x1="468.25" y1="124.30" x2="468.25" y2="126.00" stroke="#333" stroke-width="0.8" />
<text x="468.25" y="136.20" font-size="7.6" text-anchor="middle" font-weight="normal" fill="#000" stroke="#000" stroke-width="0.14" letter-spacing="-0.3">15</text>
<line x1="493.25" y1="124.30" x2="493.25" y2="126.00" stroke="#333" stroke-width="0.8" />
<text x="493.25" y="136.20" font-size="7.6" text-anchor="middle" font-weight="normal" fill="#000" stroke="#000" stroke-width="0.14" letter-spacing="-0.3">22</text>
<text x="471.50" y="145.00" font-size="7.35" text-anchor="middle" font-weight="normal" fill="#111" stroke="#111" stroke-width="0.14" >culture period (d)</text>
<text transform="translate(415.6,73) rotate(-90)" font-size="7.4" fill="#111" stroke="#111" stroke-width="0.1" text-anchor="middle">rel. FOXP3 mRNA expression</text>
<path d="M440.50 33.65L442.45 35.60L440.50 37.55L438.55 35.60Z" fill="#000" stroke="#000" stroke-width="0.3"/>
<rect x="439.05" y="40.25" width="2.90" height="2.90" fill="#000" stroke="#000" stroke-width="0.3"/>
<path d="M440.50 47.12L442.12 44.28L438.88 44.28Z" fill="#000" stroke="#000" stroke-width="0.3"/>
<circle cx="440.50" cy="64.50" r="1.60" fill="#000" stroke="#000" stroke-width="0.3"/>
<path d="M465.10 32.12L466.73 29.28L463.48 29.28Z" fill="#000" stroke="#000" stroke-width="0.3"/>
<path d="M465.10 32.45L467.05 34.40L465.10 36.35L463.15 34.40Z" fill="#000" stroke="#000" stroke-width="0.3"/>
<rect x="463.65" y="38.55" width="2.90" height="2.90" fill="#000" stroke="#000" stroke-width="0.3"/>
<circle cx="465.10" cy="59.90" r="1.60" fill="#000" stroke="#000" stroke-width="0.3"/>
<path d="M489.40 36.92L491.02 34.08L487.77 34.08Z" fill="#000" stroke="#000" stroke-width="0.3"/>
<path d="M489.40 35.85L491.35 37.80L489.40 39.75L487.45 37.80Z" fill="#000" stroke="#000" stroke-width="0.3"/>
<circle cx="489.40" cy="46.30" r="1.60" fill="#000" stroke="#000" stroke-width="0.3"/>
<rect x="487.95" y="57.55" width="2.90" height="2.90" fill="#000" stroke="#000" stroke-width="0.3"/>
<path d="M446.50 45.73L448.12 42.88L444.88 42.88Z" fill="#fff" stroke="#555" stroke-width="0.75"/>
<circle cx="446.50" cy="57.40" r="1.45" fill="#fff" stroke="#555" stroke-width="0.75"/>
<path d="M446.50 62.71L448.38 64.60L446.50 66.48L444.62 64.60Z" fill="#fff" stroke="#555" stroke-width="0.75"/>
<rect x="445.20" y="67.90" width="2.60" height="2.60" fill="#fff" stroke="#555" stroke-width="0.75"/>
<path d="M471.00 64.83L472.62 61.98L469.38 61.98Z" fill="#fff" stroke="#555" stroke-width="0.75"/>
<path d="M471.00 68.31L472.88 70.20L471.00 72.09L469.12 70.20Z" fill="#fff" stroke="#555" stroke-width="0.75"/>
<circle cx="471.00" cy="80.50" r="1.45" fill="#fff" stroke="#555" stroke-width="0.75"/>
<rect x="469.70" y="98.50" width="2.60" height="2.60" fill="#fff" stroke="#555" stroke-width="0.75"/>
<path d="M496.00 85.31L497.88 87.20L496.00 89.09L494.12 87.20Z" fill="#fff" stroke="#555" stroke-width="0.75"/>
<path d="M496.00 101.42L497.62 98.58L494.38 98.58Z" fill="#fff" stroke="#555" stroke-width="0.75"/>
<circle cx="496.00" cy="111.90" r="1.45" fill="#fff" stroke="#555" stroke-width="0.75"/>
<rect x="494.70" y="116.00" width="2.60" height="2.60" fill="#fff" stroke="#555" stroke-width="0.75"/>
<text x="267.60" y="173.80" font-size="14.9" text-anchor="start" font-weight="bold" fill="#000" >D</text>
<text x="319.00" y="173.30" font-size="8.0" text-anchor="middle" font-weight="normal" fill="#000" stroke="#000" stroke-width="0.14" >RA+</text>
<text x="366.90" y="173.30" font-size="8.0" text-anchor="middle" font-weight="normal" fill="#000" stroke="#000" stroke-width="0.14" >RA-</text>
<text x="417.20" y="173.30" font-size="8.0" text-anchor="middle" font-weight="normal" fill="#000" stroke="#000" stroke-width="0.14" >CD25<tspan font-size="5.4" dy="-3">high</tspan></text>
<text x="467.30" y="173.30" font-size="8.0" text-anchor="middle" font-weight="normal" fill="#000" stroke="#000" stroke-width="0.14" >CD25<tspan font-size="5.4" dy="-3">neg</tspan></text>
<text x="493.70" y="199.10" font-size="8.4" text-anchor="start" font-weight="normal" fill="#000" stroke="#000" stroke-width="0.14" >day 7</text>
<text x="493.70" y="246.60" font-size="8.4" text-anchor="start" font-weight="normal" fill="#000" stroke="#000" stroke-width="0.14" >day 14</text>
<text x="493.70" y="293.00" font-size="8.4" text-anchor="start" font-weight="normal" fill="#000" stroke="#000" stroke-width="0.14" >day 22</text>
<rect x="298.50" y="176.40" width="40.3" height="40.4" fill="none" stroke="#9a9a9a" stroke-width="0.6"/>
<line x1="297.30" y1="176.40" x2="298.50" y2="176.40" stroke="#aaa" stroke-width="0.4" />
<rect x="294.80" y="175.60" width="2.2" height="1.4" fill="#aaa"/>
<line x1="297.30" y1="186.50" x2="298.50" y2="186.50" stroke="#aaa" stroke-width="0.4" />
<rect x="294.80" y="185.70" width="2.2" height="1.4" fill="#aaa"/>
<line x1="297.30" y1="196.60" x2="298.50" y2="196.60" stroke="#aaa" stroke-width="0.4" />
<rect x="294.80" y="195.80" width="2.2" height="1.4" fill="#aaa"/>
<line x1="297.30" y1="206.70" x2="298.50" y2="206.70" stroke="#aaa" stroke-width="0.4" />
<rect x="294.80" y="205.90" width="2.2" height="1.4" fill="#aaa"/>
<line x1="297.30" y1="216.80" x2="298.50" y2="216.80" stroke="#aaa" stroke-width="0.4" />
<rect x="294.80" y="216.00" width="2.2" height="1.4" fill="#aaa"/>
<line x1="298.50" y1="216.80" x2="298.50" y2="217.80" stroke="#aaa" stroke-width="0.4" />
<rect x="298.90" y="219.70" width="1.2" height="1.4" fill="#a8a8a8"/>
<line x1="306.56" y1="216.80" x2="306.56" y2="217.80" stroke="#aaa" stroke-width="0.4" />
<rect x="305.60" y="219.70" width="3.2" height="1.4" fill="#a8a8a8"/>
<line x1="314.62" y1="216.80" x2="314.62" y2="217.80" stroke="#aaa" stroke-width="0.4" />
<rect x="313.30" y="219.70" width="3.2" height="1.4" fill="#a8a8a8"/>
<line x1="322.68" y1="216.80" x2="322.68" y2="217.80" stroke="#aaa" stroke-width="0.4" />
<rect x="321.00" y="219.70" width="3.2" height="1.4" fill="#a8a8a8"/>
<line x1="330.74" y1="216.80" x2="330.74" y2="217.80" stroke="#aaa" stroke-width="0.4" />
<rect x="328.70" y="219.70" width="3.2" height="1.4" fill="#a8a8a8"/>
<line x1="338.80" y1="216.80" x2="338.80" y2="217.80" stroke="#aaa" stroke-width="0.4" />
<rect x="335.90" y="219.70" width="4.2" height="1.4" fill="#a8a8a8"/>
<rect x="302.80" y="178.30" width="11.70" height="18.40" fill="none" stroke="#aaa" stroke-width="0.6"/>
<text x="318.70" y="188.70" font-size="5.0" text-anchor="start" font-weight="normal" fill="#111" >96.6</text>
<rect x="348.50" y="176.40" width="40.3" height="40.4" fill="none" stroke="#9a9a9a" stroke-width="0.6"/>
<line x1="347.30" y1="176.40" x2="348.50" y2="176.40" stroke="#aaa" stroke-width="0.4" />
<rect x="344.80" y="175.60" width="2.2" height="1.4" fill="#aaa"/>
<line x1="347.30" y1="186.50" x2="348.50" y2="186.50" stroke="#aaa" stroke-width="0.4" />
<rect x="344.80" y="185.70" width="2.2" height="1.4" fill="#aaa"/>
<line x1="347.30" y1="196.60" x2="348.50" y2="196.60" stroke="#aaa" stroke-width="0.4" />
<rect x="344.80" y="195.80" width="2.2" height="1.4" fill="#aaa"/>
<line x1="347.30" y1="206.70" x2="348.50" y2="206.70" stroke="#aaa" stroke-width="0.4" />
<rect x="344.80" y="205.90" width="2.2" height="1.4" fill="#aaa"/>
<line x1="347.30" y1="216.80" x2="348.50" y2="216.80" stroke="#aaa" stroke-width="0.4" />
<rect x="344.80" y="216.00" width="2.2" height="1.4" fill="#aaa"/>
<line x1="348.50" y1="216.80" x2="348.50" y2="217.80" stroke="#aaa" stroke-width="0.4" />
<rect x="348.90" y="219.70" width="1.2" height="1.4" fill="#a8a8a8"/>
<line x1="356.56" y1="216.80" x2="356.56" y2="217.80" stroke="#aaa" stroke-width="0.4" />
<rect x="355.60" y="219.70" width="3.2" height="1.4" fill="#a8a8a8"/>
<line x1="364.62" y1="216.80" x2="364.62" y2="217.80" stroke="#aaa" stroke-width="0.4" />
<rect x="363.30" y="219.70" width="3.2" height="1.4" fill="#a8a8a8"/>
<line x1="372.68" y1="216.80" x2="372.68" y2="217.80" stroke="#aaa" stroke-width="0.4" />
<rect x="371.00" y="219.70" width="3.2" height="1.4" fill="#a8a8a8"/>
<line x1="380.74" y1="216.80" x2="380.74" y2="217.80" stroke="#aaa" stroke-width="0.4" />
<rect x="378.70" y="219.70" width="3.2" height="1.4" fill="#a8a8a8"/>
<line x1="388.80" y1="216.80" x2="388.80" y2="217.80" stroke="#aaa" stroke-width="0.4" />
<rect x="385.90" y="219.70" width="4.2" height="1.4" fill="#a8a8a8"/>
<rect x="352.50" y="178.70" width="11.50" height="20.50" fill="none" stroke="#aaa" stroke-width="0.6"/>
<text x="369.20" y="188.70" font-size="5.0" text-anchor="start" font-weight="normal" fill="#111" >43.1</text>
<rect x="398.20" y="176.40" width="40.3" height="40.4" fill="none" stroke="#9a9a9a" stroke-width="0.6"/>
<line x1="397.00" y1="176.40" x2="398.20" y2="176.40" stroke="#aaa" stroke-width="0.4" />
<rect x="394.50" y="175.60" width="2.2" height="1.4" fill="#aaa"/>
<line x1="397.00" y1="186.50" x2="398.20" y2="186.50" stroke="#aaa" stroke-width="0.4" />
<rect x="394.50" y="185.70" width="2.2" height="1.4" fill="#aaa"/>
<line x1="397.00" y1="196.60" x2="398.20" y2="196.60" stroke="#aaa" stroke-width="0.4" />
<rect x="394.50" y="195.80" width="2.2" height="1.4" fill="#aaa"/>
<line x1="397.00" y1="206.70" x2="398.20" y2="206.70" stroke="#aaa" stroke-width="0.4" />
<rect x="394.50" y="205.90" width="2.2" height="1.4" fill="#aaa"/>
<line x1="397.00" y1="216.80" x2="398.20" y2="216.80" stroke="#aaa" stroke-width="0.4" />
<rect x="394.50" y="216.00" width="2.2" height="1.4" fill="#aaa"/>
<line x1="398.20" y1="216.80" x2="398.20" y2="217.80" stroke="#aaa" stroke-width="0.4" />
<rect x="398.60" y="219.70" width="1.2" height="1.4" fill="#a8a8a8"/>
<line x1="406.26" y1="216.80" x2="406.26" y2="217.80" stroke="#aaa" stroke-width="0.4" />
<rect x="405.30" y="219.70" width="3.2" height="1.4" fill="#a8a8a8"/>
<line x1="414.32" y1="216.80" x2="414.32" y2="217.80" stroke="#aaa" stroke-width="0.4" />
<rect x="413.00" y="219.70" width="3.2" height="1.4" fill="#a8a8a8"/>
<line x1="422.38" y1="216.80" x2="422.38" y2="217.80" stroke="#aaa" stroke-width="0.4" />
<rect x="420.70" y="219.70" width="3.2" height="1.4" fill="#a8a8a8"/>
<line x1="430.44" y1="216.80" x2="430.44" y2="217.80" stroke="#aaa" stroke-width="0.4" />
<rect x="428.40" y="219.70" width="3.2" height="1.4" fill="#a8a8a8"/>
<line x1="438.50" y1="216.80" x2="438.50" y2="217.80" stroke="#aaa" stroke-width="0.4" />
<rect x="435.60" y="219.70" width="4.2" height="1.4" fill="#a8a8a8"/>
<rect x="402.40" y="178.30" width="12.10" height="18.40" fill="none" stroke="#aaa" stroke-width="0.6"/>
<text x="418.00" y="188.70" font-size="5.0" text-anchor="start" font-weight="normal" fill="#111" >62.5</text>
<rect x="447.60" y="176.40" width="40.3" height="40.4" fill="none" stroke="#9a9a9a" stroke-width="0.6"/>
<line x1="446.40" y1="176.40" x2="447.60" y2="176.40" stroke="#aaa" stroke-width="0.4" />
<rect x="443.90" y="175.60" width="2.2" height="1.4" fill="#aaa"/>
<line x1="446.40" y1="186.50" x2="447.60" y2="186.50" stroke="#aaa" stroke-width="0.4" />
<rect x="443.90" y="185.70" width="2.2" height="1.4" fill="#aaa"/>
<line x1="446.40" y1="196.60" x2="447.60" y2="196.60" stroke="#aaa" stroke-width="0.4" />
<rect x="443.90" y="195.80" width="2.2" height="1.4" fill="#aaa"/>
<line x1="446.40" y1="206.70" x2="447.60" y2="206.70" stroke="#aaa" stroke-width="0.4" />
<rect x="443.90" y="205.90" width="2.2" height="1.4" fill="#aaa"/>
<line x1="446.40" y1="216.80" x2="447.60" y2="216.80" stroke="#aaa" stroke-width="0.4" />
<rect x="443.90" y="216.00" width="2.2" height="1.4" fill="#aaa"/>
<line x1="447.60" y1="216.80" x2="447.60" y2="217.80" stroke="#aaa" stroke-width="0.4" />
<rect x="448.00" y="219.70" width="1.2" height="1.4" fill="#a8a8a8"/>
<line x1="455.66" y1="216.80" x2="455.66" y2="217.80" stroke="#aaa" stroke-width="0.4" />
<rect x="454.70" y="219.70" width="3.2" height="1.4" fill="#a8a8a8"/>
<line x1="463.72" y1="216.80" x2="463.72" y2="217.80" stroke="#aaa" stroke-width="0.4" />
<rect x="462.40" y="219.70" width="3.2" height="1.4" fill="#a8a8a8"/>
<line x1="471.78" y1="216.80" x2="471.78" y2="217.80" stroke="#aaa" stroke-width="0.4" />
<rect x="470.10" y="219.70" width="3.2" height="1.4" fill="#a8a8a8"/>
<line x1="479.84" y1="216.80" x2="479.84" y2="217.80" stroke="#aaa" stroke-width="0.4" />
<rect x="477.80" y="219.70" width="3.2" height="1.4" fill="#a8a8a8"/>
<line x1="487.90" y1="216.80" x2="487.90" y2="217.80" stroke="#aaa" stroke-width="0.4" />
<rect x="485.00" y="219.70" width="4.2" height="1.4" fill="#a8a8a8"/>
<rect x="452.80" y="178.30" width="13.80" height="22.00" fill="none" stroke="#aaa" stroke-width="0.6"/>
<text x="468.90" y="188.70" font-size="5.0" text-anchor="start" font-weight="normal" fill="#111" >9.31</text>
<rect x="298.50" y="222.50" width="40.3" height="40.4" fill="none" stroke="#9a9a9a" stroke-width="0.6"/>
<line x1="297.30" y1="222.50" x2="298.50" y2="222.50" stroke="#aaa" stroke-width="0.4" />
<rect x="294.80" y="221.70" width="2.2" height="1.4" fill="#aaa"/>
<line x1="297.30" y1="232.60" x2="298.50" y2="232.60" stroke="#aaa" stroke-width="0.4" />
<rect x="294.80" y="231.80" width="2.2" height="1.4" fill="#aaa"/>
<line x1="297.30" y1="242.70" x2="298.50" y2="242.70" stroke="#aaa" stroke-width="0.4" />
<rect x="294.80" y="241.90" width="2.2" height="1.4" fill="#aaa"/>
<line x1="297.30" y1="252.80" x2="298.50" y2="252.80" stroke="#aaa" stroke-width="0.4" />
<rect x="294.80" y="252.00" width="2.2" height="1.4" fill="#aaa"/>
<line x1="297.30" y1="262.90" x2="298.50" y2="262.90" stroke="#aaa" stroke-width="0.4" />
<rect x="294.80" y="262.10" width="2.2" height="1.4" fill="#aaa"/>
<line x1="298.50" y1="262.90" x2="298.50" y2="263.90" stroke="#aaa" stroke-width="0.4" />
<rect x="298.90" y="265.80" width="1.2" height="1.4" fill="#a8a8a8"/>
<line x1="306.56" y1="262.90" x2="306.56" y2="263.90" stroke="#aaa" stroke-width="0.4" />
<rect x="305.60" y="265.80" width="3.2" height="1.4" fill="#a8a8a8"/>
<line x1="314.62" y1="262.90" x2="314.62" y2="263.90" stroke="#aaa" stroke-width="0.4" />
<rect x="313.30" y="265.80" width="3.2" height="1.4" fill="#a8a8a8"/>
<line x1="322.68" y1="262.90" x2="322.68" y2="263.90" stroke="#aaa" stroke-width="0.4" />
<rect x="321.00" y="265.80" width="3.2" height="1.4" fill="#a8a8a8"/>
<line x1="330.74" y1="262.90" x2="330.74" y2="263.90" stroke="#aaa" stroke-width="0.4" />
<rect x="328.70" y="265.80" width="3.2" height="1.4" fill="#a8a8a8"/>
<line x1="338.80" y1="262.90" x2="338.80" y2="263.90" stroke="#aaa" stroke-width="0.4" />
<rect x="335.90" y="265.80" width="4.2" height="1.4" fill="#a8a8a8"/>
<rect x="304.90" y="225.30" width="16.00" height="15.50" fill="none" stroke="#aaa" stroke-width="0.6"/>
<text x="322.80" y="235.10" font-size="5.0" text-anchor="start" font-weight="normal" fill="#111" >94.3</text>
<rect x="348.50" y="222.50" width="40.3" height="40.4" fill="none" stroke="#9a9a9a" stroke-width="0.6"/>
<line x1="347.30" y1="222.50" x2="348.50" y2="222.50" stroke="#aaa" stroke-width="0.4" />
<rect x="344.80" y="221.70" width="2.2" height="1.4" fill="#aaa"/>
<line x1="347.30" y1="232.60" x2="348.50" y2="232.60" stroke="#aaa" stroke-width="0.4" />
<rect x="344.80" y="231.80" width="2.2" height="1.4" fill="#aaa"/>
<line x1="347.30" y1="242.70" x2="348.50" y2="242.70" stroke="#aaa" stroke-width="0.4" />
<rect x="344.80" y="241.90" width="2.2" height="1.4" fill="#aaa"/>
<line x1="347.30" y1="252.80" x2="348.50" y2="252.80" stroke="#aaa" stroke-width="0.4" />
<rect x="344.80" y="252.00" width="2.2" height="1.4" fill="#aaa"/>
<line x1="347.30" y1="262.90" x2="348.50" y2="262.90" stroke="#aaa" stroke-width="0.4" />
<rect x="344.80" y="262.10" width="2.2" height="1.4" fill="#aaa"/>
<line x1="348.50" y1="262.90" x2="348.50" y2="263.90" stroke="#aaa" stroke-width="0.4" />
<rect x="348.90" y="265.80" width="1.2" height="1.4" fill="#a8a8a8"/>
<line x1="356.56" y1="262.90" x2="356.56" y2="263.90" stroke="#aaa" stroke-width="0.4" />
<rect x="355.60" y="265.80" width="3.2" height="1.4" fill="#a8a8a8"/>
<line x1="364.62" y1="262.90" x2="364.62" y2="263.90" stroke="#aaa" stroke-width="0.4" />
<rect x="363.30" y="265.80" width="3.2" height="1.4" fill="#a8a8a8"/>
<line x1="372.68" y1="262.90" x2="372.68" y2="263.90" stroke="#aaa" stroke-width="0.4" />
<rect x="371.00" y="265.80" width="3.2" height="1.4" fill="#a8a8a8"/>
<line x1="380.74" y1="262.90" x2="380.74" y2="263.90" stroke="#aaa" stroke-width="0.4" />
<rect x="378.70" y="265.80" width="3.2" height="1.4" fill="#a8a8a8"/>
<line x1="388.80" y1="262.90" x2="388.80" y2="263.90" stroke="#aaa" stroke-width="0.4" />
<rect x="385.90" y="265.80" width="4.2" height="1.4" fill="#a8a8a8"/>
<rect x="354.90" y="224.70" width="15.50" height="16.10" fill="none" stroke="#aaa" stroke-width="0.6"/>
<text x="373.70" y="235.10" font-size="5.0" text-anchor="start" font-weight="normal" fill="#111" >24.8</text>
<rect x="398.20" y="222.50" width="40.3" height="40.4" fill="none" stroke="#9a9a9a" stroke-width="0.6"/>
<line x1="397.00" y1="222.50" x2="398.20" y2="222.50" stroke="#aaa" stroke-width="0.4" />
<rect x="394.50" y="221.70" width="2.2" height="1.4" fill="#aaa"/>
<line x1="397.00" y1="232.60" x2="398.20" y2="232.60" stroke="#aaa" stroke-width="0.4" />
<rect x="394.50" y="231.80" width="2.2" height="1.4" fill="#aaa"/>
<line x1="397.00" y1="242.70" x2="398.20" y2="242.70" stroke="#aaa" stroke-width="0.4" />
<rect x="394.50" y="241.90" width="2.2" height="1.4" fill="#aaa"/>
<line x1="397.00" y1="252.80" x2="398.20" y2="252.80" stroke="#aaa" stroke-width="0.4" />
<rect x="394.50" y="252.00" width="2.2" height="1.4" fill="#aaa"/>
<line x1="397.00" y1="262.90" x2="398.20" y2="262.90" stroke="#aaa" stroke-width="0.4" />
<rect x="394.50" y="262.10" width="2.2" height="1.4" fill="#aaa"/>
<line x1="398.20" y1="262.90" x2="398.20" y2="263.90" stroke="#aaa" stroke-width="0.4" />
<rect x="398.60" y="265.80" width="1.2" height="1.4" fill="#a8a8a8"/>
<line x1="406.26" y1="262.90" x2="406.26" y2="263.90" stroke="#aaa" stroke-width="0.4" />
<rect x="405.30" y="265.80" width="3.2" height="1.4" fill="#a8a8a8"/>
<line x1="414.32" y1="262.90" x2="414.32" y2="263.90" stroke="#aaa" stroke-width="0.4" />
<rect x="413.00" y="265.80" width="3.2" height="1.4" fill="#a8a8a8"/>
<line x1="422.38" y1="262.90" x2="422.38" y2="263.90" stroke="#aaa" stroke-width="0.4" />
<rect x="420.70" y="265.80" width="3.2" height="1.4" fill="#a8a8a8"/>
<line x1="430.44" y1="262.90" x2="430.44" y2="263.90" stroke="#aaa" stroke-width="0.4" />
<rect x="428.40" y="265.80" width="3.2" height="1.4" fill="#a8a8a8"/>
<line x1="438.50" y1="262.90" x2="438.50" y2="263.90" stroke="#aaa" stroke-width="0.4" />
<rect x="435.60" y="265.80" width="4.2" height="1.4" fill="#a8a8a8"/>
<rect x="403.70" y="224.70" width="16.70" height="16.10" fill="none" stroke="#aaa" stroke-width="0.6"/>
<text x="421.80" y="235.10" font-size="5.0" text-anchor="start" font-weight="normal" fill="#111" >74.5</text>
<rect x="447.60" y="222.50" width="40.3" height="40.4" fill="none" stroke="#9a9a9a" stroke-width="0.6"/>
<line x1="446.40" y1="222.50" x2="447.60" y2="222.50" stroke="#aaa" stroke-width="0.4" />
<rect x="443.90" y="221.70" width="2.2" height="1.4" fill="#aaa"/>
<line x1="446.40" y1="232.60" x2="447.60" y2="232.60" stroke="#aaa" stroke-width="0.4" />
<rect x="443.90" y="231.80" width="2.2" height="1.4" fill="#aaa"/>
<line x1="446.40" y1="242.70" x2="447.60" y2="242.70" stroke="#aaa" stroke-width="0.4" />
<rect x="443.90" y="241.90" width="2.2" height="1.4" fill="#aaa"/>
<line x1="446.40" y1="252.80" x2="447.60" y2="252.80" stroke="#aaa" stroke-width="0.4" />
<rect x="443.90" y="252.00" width="2.2" height="1.4" fill="#aaa"/>
<line x1="446.40" y1="262.90" x2="447.60" y2="262.90" stroke="#aaa" stroke-width="0.4" />
<rect x="443.90" y="262.10" width="2.2" height="1.4" fill="#aaa"/>
<line x1="447.60" y1="262.90" x2="447.60" y2="263.90" stroke="#aaa" stroke-width="0.4" />
<rect x="448.00" y="265.80" width="1.2" height="1.4" fill="#a8a8a8"/>
<line x1="455.66" y1="262.90" x2="455.66" y2="263.90" stroke="#aaa" stroke-width="0.4" />
<rect x="454.70" y="265.80" width="3.2" height="1.4" fill="#a8a8a8"/>
<line x1="463.72" y1="262.90" x2="463.72" y2="263.90" stroke="#aaa" stroke-width="0.4" />
<rect x="462.40" y="265.80" width="3.2" height="1.4" fill="#a8a8a8"/>
<line x1="471.78" y1="262.90" x2="471.78" y2="263.90" stroke="#aaa" stroke-width="0.4" />
<rect x="470.10" y="265.80" width="3.2" height="1.4" fill="#a8a8a8"/>
<line x1="479.84" y1="262.90" x2="479.84" y2="263.90" stroke="#aaa" stroke-width="0.4" />
<rect x="477.80" y="265.80" width="3.2" height="1.4" fill="#a8a8a8"/>
<line x1="487.90" y1="262.90" x2="487.90" y2="263.90" stroke="#aaa" stroke-width="0.4" />
<rect x="485.00" y="265.80" width="4.2" height="1.4" fill="#a8a8a8"/>
<rect x="453.20" y="224.70" width="16.60" height="16.10" fill="none" stroke="#aaa" stroke-width="0.6"/>
<text x="472.60" y="235.10" font-size="5.0" text-anchor="start" font-weight="normal" fill="#111" >7.27</text>
<rect x="298.50" y="268.80" width="40.3" height="40.4" fill="none" stroke="#9a9a9a" stroke-width="0.6"/>
<line x1="297.30" y1="268.80" x2="298.50" y2="268.80" stroke="#aaa" stroke-width="0.4" />
<rect x="294.80" y="268.00" width="2.2" height="1.4" fill="#aaa"/>
<line x1="297.30" y1="278.90" x2="298.50" y2="278.90" stroke="#aaa" stroke-width="0.4" />
<rect x="294.80" y="278.10" width="2.2" height="1.4" fill="#aaa"/>
<line x1="297.30" y1="289.00" x2="298.50" y2="289.00" stroke="#aaa" stroke-width="0.4" />
<rect x="294.80" y="288.20" width="2.2" height="1.4" fill="#aaa"/>
<line x1="297.30" y1="299.10" x2="298.50" y2="299.10" stroke="#aaa" stroke-width="0.4" />
<rect x="294.80" y="298.30" width="2.2" height="1.4" fill="#aaa"/>
<line x1="297.30" y1="309.20" x2="298.50" y2="309.20" stroke="#aaa" stroke-width="0.4" />
<rect x="294.80" y="308.40" width="2.2" height="1.4" fill="#aaa"/>
<line x1="298.50" y1="309.20" x2="298.50" y2="310.20" stroke="#aaa" stroke-width="0.4" />
<rect x="298.90" y="312.10" width="1.2" height="1.4" fill="#a8a8a8"/>
<line x1="306.56" y1="309.20" x2="306.56" y2="310.20" stroke="#aaa" stroke-width="0.4" />
<rect x="305.60" y="312.10" width="3.2" height="1.4" fill="#a8a8a8"/>
<line x1="314.62" y1="309.20" x2="314.62" y2="310.20" stroke="#aaa" stroke-width="0.4" />
<rect x="313.30" y="312.10" width="3.2" height="1.4" fill="#a8a8a8"/>
<line x1="322.68" y1="309.20" x2="322.68" y2="310.20" stroke="#aaa" stroke-width="0.4" />
<rect x="321.00" y="312.10" width="3.2" height="1.4" fill="#a8a8a8"/>
<line x1="330.74" y1="309.20" x2="330.74" y2="310.20" stroke="#aaa" stroke-width="0.4" />
<rect x="328.70" y="312.10" width="3.2" height="1.4" fill="#a8a8a8"/>
<line x1="338.80" y1="309.20" x2="338.80" y2="310.20" stroke="#aaa" stroke-width="0.4" />
<rect x="335.90" y="312.10" width="4.2" height="1.4" fill="#a8a8a8"/>
<rect x="303.40" y="271.70" width="16.60" height="18.50" fill="none" stroke="#aaa" stroke-width="0.6"/>
<text x="324.60" y="281.70" font-size="5.0" text-anchor="start" font-weight="normal" fill="#111" >95</text>
<rect x="348.50" y="268.80" width="40.3" height="40.4" fill="none" stroke="#9a9a9a" stroke-width="0.6"/>
<line x1="347.30" y1="268.80" x2="348.50" y2="268.80" stroke="#aaa" stroke-width="0.4" />
<rect x="344.80" y="268.00" width="2.2" height="1.4" fill="#aaa"/>
<line x1="347.30" y1="278.90" x2="348.50" y2="278.90" stroke="#aaa" stroke-width="0.4" />
<rect x="344.80" y="278.10" width="2.2" height="1.4" fill="#aaa"/>
<line x1="347.30" y1="289.00" x2="348.50" y2="289.00" stroke="#aaa" stroke-width="0.4" />
<rect x="344.80" y="288.20" width="2.2" height="1.4" fill="#aaa"/>
<line x1="347.30" y1="299.10" x2="348.50" y2="299.10" stroke="#aaa" stroke-width="0.4" />
<rect x="344.80" y="298.30" width="2.2" height="1.4" fill="#aaa"/>
<line x1="347.30" y1="309.20" x2="348.50" y2="309.20" stroke="#aaa" stroke-width="0.4" />
<rect x="344.80" y="308.40" width="2.2" height="1.4" fill="#aaa"/>
<line x1="348.50" y1="309.20" x2="348.50" y2="310.20" stroke="#aaa" stroke-width="0.4" />
<rect x="348.90" y="312.10" width="1.2" height="1.4" fill="#a8a8a8"/>
<line x1="356.56" y1="309.20" x2="356.56" y2="310.20" stroke="#aaa" stroke-width="0.4" />
<rect x="355.60" y="312.10" width="3.2" height="1.4" fill="#a8a8a8"/>
<line x1="364.62" y1="309.20" x2="364.62" y2="310.20" stroke="#aaa" stroke-width="0.4" />
<rect x="363.30" y="312.10" width="3.2" height="1.4" fill="#a8a8a8"/>
<line x1="372.68" y1="309.20" x2="372.68" y2="310.20" stroke="#aaa" stroke-width="0.4" />
<rect x="371.00" y="312.10" width="3.2" height="1.4" fill="#a8a8a8"/>
<line x1="380.74" y1="309.20" x2="380.74" y2="310.20" stroke="#aaa" stroke-width="0.4" />
<rect x="378.70" y="312.10" width="3.2" height="1.4" fill="#a8a8a8"/>
<line x1="388.80" y1="309.20" x2="388.80" y2="310.20" stroke="#aaa" stroke-width="0.4" />
<rect x="385.90" y="312.10" width="4.2" height="1.4" fill="#a8a8a8"/>
<rect x="353.80" y="271.70" width="16.60" height="18.50" fill="none" stroke="#aaa" stroke-width="0.6"/>
<text x="373.70" y="281.70" font-size="5.0" text-anchor="start" font-weight="normal" fill="#111" >8.08</text>
<rect x="398.20" y="268.80" width="40.3" height="40.4" fill="none" stroke="#9a9a9a" stroke-width="0.6"/>
<line x1="397.00" y1="268.80" x2="398.20" y2="268.80" stroke="#aaa" stroke-width="0.4" />
<rect x="394.50" y="268.00" width="2.2" height="1.4" fill="#aaa"/>
<line x1="397.00" y1="278.90" x2="398.20" y2="278.90" stroke="#aaa" stroke-width="0.4" />
<rect x="394.50" y="278.10" width="2.2" height="1.4" fill="#aaa"/>
<line x1="397.00" y1="289.00" x2="398.20" y2="289.00" stroke="#aaa" stroke-width="0.4" />
<rect x="394.50" y="288.20" width="2.2" height="1.4" fill="#aaa"/>
<line x1="397.00" y1="299.10" x2="398.20" y2="299.10" stroke="#aaa" stroke-width="0.4" />
<rect x="394.50" y="298.30" width="2.2" height="1.4" fill="#aaa"/>
<line x1="397.00" y1="309.20" x2="398.20" y2="309.20" stroke="#aaa" stroke-width="0.4" />
<rect x="394.50" y="308.40" width="2.2" height="1.4" fill="#aaa"/>
<line x1="398.20" y1="309.20" x2="398.20" y2="310.20" stroke="#aaa" stroke-width="0.4" />
<rect x="398.60" y="312.10" width="1.2" height="1.4" fill="#a8a8a8"/>
<line x1="406.26" y1="309.20" x2="406.26" y2="310.20" stroke="#aaa" stroke-width="0.4" />
<rect x="405.30" y="312.10" width="3.2" height="1.4" fill="#a8a8a8"/>
<line x1="414.32" y1="309.20" x2="414.32" y2="310.20" stroke="#aaa" stroke-width="0.4" />
<rect x="413.00" y="312.10" width="3.2" height="1.4" fill="#a8a8a8"/>
<line x1="422.38" y1="309.20" x2="422.38" y2="310.20" stroke="#aaa" stroke-width="0.4" />
<rect x="420.70" y="312.10" width="3.2" height="1.4" fill="#a8a8a8"/>
<line x1="430.44" y1="309.20" x2="430.44" y2="310.20" stroke="#aaa" stroke-width="0.4" />
<rect x="428.40" y="312.10" width="3.2" height="1.4" fill="#a8a8a8"/>
<line x1="438.50" y1="309.20" x2="438.50" y2="310.20" stroke="#aaa" stroke-width="0.4" />
<rect x="435.60" y="312.10" width="4.2" height="1.4" fill="#a8a8a8"/>
<rect x="402.50" y="271.70" width="16.50" height="18.50" fill="none" stroke="#aaa" stroke-width="0.6"/>
<text x="422.80" y="282.10" font-size="5.0" text-anchor="start" font-weight="normal" fill="#111" >50.5</text>
<rect x="447.60" y="268.80" width="40.3" height="40.4" fill="none" stroke="#9a9a9a" stroke-width="0.6"/>
<line x1="446.40" y1="268.80" x2="447.60" y2="268.80" stroke="#aaa" stroke-width="0.4" />
<rect x="443.90" y="268.00" width="2.2" height="1.4" fill="#aaa"/>
<line x1="446.40" y1="278.90" x2="447.60" y2="278.90" stroke="#aaa" stroke-width="0.4" />
<rect x="443.90" y="278.10" width="2.2" height="1.4" fill="#aaa"/>
<line x1="446.40" y1="289.00" x2="447.60" y2="289.00" stroke="#aaa" stroke-width="0.4" />
<rect x="443.90" y="288.20" width="2.2" height="1.4" fill="#aaa"/>
<line x1="446.40" y1="299.10" x2="447.60" y2="299.10" stroke="#aaa" stroke-width="0.4" />
<rect x="443.90" y="298.30" width="2.2" height="1.4" fill="#aaa"/>
<line x1="446.40" y1="309.20" x2="447.60" y2="309.20" stroke="#aaa" stroke-width="0.4" />
<rect x="443.90" y="308.40" width="2.2" height="1.4" fill="#aaa"/>
<line x1="447.60" y1="309.20" x2="447.60" y2="310.20" stroke="#aaa" stroke-width="0.4" />
<rect x="448.00" y="312.10" width="1.2" height="1.4" fill="#a8a8a8"/>
<line x1="455.66" y1="309.20" x2="455.66" y2="310.20" stroke="#aaa" stroke-width="0.4" />
<rect x="454.70" y="312.10" width="3.2" height="1.4" fill="#a8a8a8"/>
<line x1="463.72" y1="309.20" x2="463.72" y2="310.20" stroke="#aaa" stroke-width="0.4" />
<rect x="462.40" y="312.10" width="3.2" height="1.4" fill="#a8a8a8"/>
<line x1="471.78" y1="309.20" x2="471.78" y2="310.20" stroke="#aaa" stroke-width="0.4" />
<rect x="470.10" y="312.10" width="3.2" height="1.4" fill="#a8a8a8"/>
<line x1="479.84" y1="309.20" x2="479.84" y2="310.20" stroke="#aaa" stroke-width="0.4" />
<rect x="477.80" y="312.10" width="3.2" height="1.4" fill="#a8a8a8"/>
<line x1="487.90" y1="309.20" x2="487.90" y2="310.20" stroke="#aaa" stroke-width="0.4" />
<rect x="485.00" y="312.10" width="4.2" height="1.4" fill="#a8a8a8"/>
<rect x="452.30" y="271.70" width="17.50" height="19.40" fill="none" stroke="#aaa" stroke-width="0.6"/>
<text x="473.50" y="281.90" font-size="5.0" text-anchor="start" font-weight="normal" fill="#111" >4.1</text>
<defs><filter id="hz" x="-50%" y="-50%" width="200%" height="200%"><feGaussianBlur stdDeviation="1.2"/></filter><filter id="sf" x="-20%" y="-20%" width="140%" height="140%"><feGaussianBlur stdDeviation="0.35"/></filter></defs>
<g transform="translate(298.50,176.40)"><ellipse transform="translate(9.00,19.00) rotate(0)" rx="4.00" ry="9.00" fill="#c0c0c0" filter="url(#hz)"/><ellipse transform="translate(8.70,15.70) rotate(0)" rx="2.65" ry="7.75" fill="#dadada" stroke="#111" stroke-width="1.8" filter="url(#sf)"/><ellipse transform="translate(8.70,15.70) rotate(0)" rx="1.32" ry="4.80" fill="#a8a8a8" stroke="#555" stroke-width="0.5"/><ellipse transform="translate(8.40,15.70) rotate(0)" rx="0.60" ry="0.90" fill="#222"/></g>
<g transform="translate(348.50,176.40)"><ellipse transform="translate(12.30,13.50) rotate(0)" rx="4.50" ry="7.50" fill="#b0b0b0" filter="url(#hz)"/><path d="M9.8,7.2 C12.5,7.6 13,11.6 12.8,15.6 L15,21.1 C15.5,23.6 12.5,26.6 9,27.1 C6.5,27.4 6.3,24.6 6.5,21.6 L6.8,11.6 C7,8.6 8,7.2 9.8,7.2 Z" fill="#6d6d6d" stroke="#111" stroke-width="1.5" stroke-linejoin="round" filter="url(#sf)"/><ellipse transform="translate(9.60,14.50) rotate(0)" rx="1.50" ry="4.40" fill="#9a9a9a" stroke="#444" stroke-width="0.5"/><ellipse transform="translate(10.80,23.00) rotate(-25)" rx="2.80" ry="1.60" fill="#f4f4f4" stroke="#1a1a1a" stroke-width="0.8"/><ellipse transform="translate(9.96,23.16) rotate(-25)" rx="0.84" ry="0.64" fill="#555"/></g>
<g transform="translate(398.20,176.40)"><ellipse transform="translate(10.00,15.00) rotate(0)" rx="4.50" ry="8.50" fill="#b8b8b8" filter="url(#hz)"/><path d="M8.7,7.3 C11,7.5 11.7,11 11.6,14 L13.4,22 C13.6,24.5 11.5,26.3 9,26.1 C6.5,26 5.8,24 5.9,21 L6,12 C6.2,9 7,7.3 8.7,7.3 Z" fill="#6a6a6a" stroke="#111" stroke-width="1.5" stroke-linejoin="round" filter="url(#sf)"/><ellipse transform="translate(8.30,15.40) rotate(0)" rx="1.30" ry="4.40" fill="#d8d8d8" stroke="#444" stroke-width="0.5"/><ellipse transform="translate(10.10,22.40) rotate(-30)" rx="2.40" ry="1.30" fill="#f4f4f4" stroke="#1a1a1a" stroke-width="0.8"/><ellipse transform="translate(9.38,22.53) rotate(-30)" rx="0.72" ry="0.52" fill="#555"/></g>
<g transform="translate(447.60,176.40)"><ellipse transform="translate(14.00,12.00) rotate(0)" rx="5.00" ry="5.50" fill="#c0c0c0" filter="url(#hz)"/><ellipse transform="translate(13.50,17.00) rotate(-10)" rx="5.50" ry="3.50" fill="#8a8a8a" filter="url(#hz)"/><path d="M7.5,28.5 L8.2,19 C8.6,16.5 9.5,15.5 10.8,15.3 C13.5,15.2 17,17 18.3,18.5 C19,19.5 18.8,21 17.8,22 L11.7,26.8 C10,28 8.5,29 7.5,28.5 Z" fill="#4a4a4a" stroke="#111" stroke-width="1.5" stroke-linejoin="round" filter="url(#sf)"/><ellipse transform="translate(12.60,22.90) rotate(-28)" rx="4.00" ry="1.50" fill="#f4f4f4" stroke="#1a1a1a" stroke-width="0.8"/><ellipse transform="translate(11.40,23.05) rotate(-28)" rx="1.20" ry="0.60" fill="#555"/></g>
<g transform="translate(298.50,222.50)"><ellipse transform="translate(10.50,18.00) rotate(0)" rx="4.50" ry="9.50" fill="#bdbdbd" filter="url(#hz)"/><ellipse transform="translate(10.30,15.20) rotate(4)" rx="2.90" ry="8.25" fill="#dadada" stroke="#111" stroke-width="1.8" filter="url(#sf)"/><ellipse transform="translate(10.30,15.20) rotate(4)" rx="1.45" ry="5.12" fill="#a8a8a8" stroke="#555" stroke-width="0.5"/><ellipse transform="translate(10.00,15.20) rotate(4)" rx="0.60" ry="0.90" fill="#222"/></g>
<g transform="translate(348.50,222.50)"><ellipse transform="translate(14.50,13.00) rotate(0)" rx="5.50" ry="8.00" fill="#a8a8a8" filter="url(#hz)"/><path d="M9.8,6.7 C12,6.7 13,9 13.6,11.6 L17.7,18.3 C18.5,19.5 18.5,21.5 17.5,22.8 C16,25 13,27 9.8,27.1 C8,27.2 7.3,25.5 7.3,23.5 L7.4,11 C7.5,8.5 8.5,6.7 9.8,6.7 Z" fill="#6a6a6a" stroke="#111" stroke-width="1.5" stroke-linejoin="round" filter="url(#sf)"/><ellipse transform="translate(10.20,14.00) rotate(0)" rx="1.90" ry="4.60" fill="#999" stroke="#444" stroke-width="0.5"/><ellipse transform="translate(12.60,22.40) rotate(-25)" rx="3.40" ry="1.80" fill="#f4f4f4" stroke="#1a1a1a" stroke-width="0.8"/><ellipse transform="translate(11.58,22.58) rotate(-25)" rx="1.02" ry="0.72" fill="#555"/></g>
<g transform="translate(398.20,222.50)"><ellipse transform="translate(11.50,16.00) rotate(0)" rx="6.00" ry="10.00" fill="#b0b0b0" filter="url(#hz)"/><ellipse transform="translate(10.40,13.60) rotate(0)" rx="3.60" ry="6.90" fill="#8a8a8a" stroke="#151515" stroke-width="1.5"/><ellipse transform="translate(10.00,13.80) rotate(0)" rx="1.90" ry="4.30" fill="#d0d0d0" stroke="#555" stroke-width="0.5"/><ellipse transform="translate(9.00,14.00) rotate(0)" rx="0.60" ry="0.90" fill="#555" stroke="none" stroke-width="0"/><ellipse transform="translate(12.40,22.80) rotate(-20)" rx="4.40" ry="3.60" fill="#5a5a5a" stroke="#111" stroke-width="1.4"/><ellipse transform="translate(12.40,23.00) rotate(-20)" rx="3.00" ry="1.90" fill="#f4f4f4" stroke="#1a1a1a" stroke-width="0.8"/><ellipse transform="translate(11.50,23.19) rotate(-20)" rx="0.90" ry="0.76" fill="#555"/></g>
<g transform="translate(447.60,222.50)"><ellipse transform="translate(11.00,10.00) rotate(0)" rx="4.50" ry="6.00" fill="#b0b0b0" filter="url(#hz)"/><ellipse transform="translate(12.00,15.00) rotate(0)" rx="5.50" ry="3.50" fill="#8a8a8a" filter="url(#hz)"/><path d="M8.2,16 C8.5,13 10,12 11.5,12.2 C14,12.5 17,15 18.7,17.5 C19.5,19 19,22 17.5,24 C15,27 12,30 9.5,31 C8,31.5 7.6,29 7.7,27 Z" fill="#4a4a4a" stroke="#111" stroke-width="1.5" stroke-linejoin="round" filter="url(#sf)"/><ellipse transform="translate(12.40,22.90) rotate(-32)" rx="3.60" ry="1.50" fill="#f4f4f4" stroke="#1a1a1a" stroke-width="0.8"/><ellipse transform="translate(11.32,23.05) rotate(-32)" rx="1.08" ry="0.60" fill="#555"/></g>
<g transform="translate(298.50,268.80)"><ellipse transform="translate(9.50,19.50) rotate(0)" rx="4.00" ry="9.50" fill="#c0c0c0" filter="url(#hz)"/><ellipse transform="translate(9.40,17.10) rotate(0)" rx="2.90" ry="8.50" fill="#dadada" stroke="#111" stroke-width="1.8" filter="url(#sf)"/><ellipse transform="translate(9.40,17.10) rotate(0)" rx="1.45" ry="5.27" fill="#a8a8a8" stroke="#555" stroke-width="0.5"/><ellipse transform="translate(9.10,17.10) rotate(0)" rx="0.60" ry="0.90" fill="#222"/></g>
<g transform="translate(348.50,268.80)"><ellipse transform="translate(9.00,14.50) rotate(0)" rx="3.00" ry="7.50" fill="#a8a8a8" filter="url(#hz)"/><ellipse transform="translate(9.20,19.50) rotate(0)" rx="3.00" ry="3.00" fill="#8a8a8a" filter="url(#hz)"/><path d="M6.8,22.6 C9,21.5 13,21 15,21.9 C15.8,22.5 15,24 14,25.2 L10,30 C9,31.3 7.5,31.5 6.8,30 C6,28 6,24.5 6.8,22.6 Z" fill="#4a4a4a" stroke="#111" stroke-width="1.5" stroke-linejoin="round" filter="url(#sf)"/><ellipse transform="translate(9.20,26.00) rotate(-30)" rx="2.00" ry="1.50" fill="#f4f4f4" stroke="#1a1a1a" stroke-width="0.8"/><ellipse transform="translate(8.60,26.15) rotate(-30)" rx="0.60" ry="0.60" fill="#555"/></g>
<g transform="translate(398.20,268.80)"><ellipse transform="translate(9.00,16.50) rotate(0)" rx="4.50" ry="8.50" fill="#b8b8b8" filter="url(#hz)"/><path d="M8.3,9.3 C10,9.3 10.8,11 11.2,13 L13.8,22 C14.2,24.5 12,27.3 8.7,27.3 C6.5,27.3 5.8,25.5 5.9,23 L6,14 C6.2,11 7,9.3 8.3,9.3 Z" fill="#6a6a6a" stroke="#111" stroke-width="1.5" stroke-linejoin="round" filter="url(#sf)"/><ellipse transform="translate(7.80,17.00) rotate(0)" rx="1.30" ry="4.50" fill="#d8d8d8" stroke="#444" stroke-width="0.5"/><ellipse transform="translate(9.80,23.30) rotate(-30)" rx="2.30" ry="1.40" fill="#f4f4f4" stroke="#1a1a1a" stroke-width="0.8"/><ellipse transform="translate(9.11,23.44) rotate(-30)" rx="0.69" ry="0.56" fill="#555"/></g>
<g transform="translate(447.60,268.80)"><ellipse transform="translate(11.50,13.00) rotate(0)" rx="4.00" ry="6.50" fill="#b8b8b8" filter="url(#hz)"/><ellipse transform="translate(11.50,18.00) rotate(0)" rx="4.00" ry="3.50" fill="#999999" filter="url(#hz)"/><path d="M8.5,20.8 C12,20.5 17,21 19.4,22 C20,23 19,24 18,24.5 L11.5,30.2 C10,31.5 8,31 7.5,29.5 C7,27.5 7.5,23 8.5,20.8 Z" fill="#4a4a4a" stroke="#111" stroke-width="1.5" stroke-linejoin="round" filter="url(#sf)"/><ellipse transform="translate(10.80,25.80) rotate(-30)" rx="2.40" ry="1.50" fill="#f4f4f4" stroke="#1a1a1a" stroke-width="0.8"/><ellipse transform="translate(10.08,25.95) rotate(-30)" rx="0.72" ry="0.60" fill="#555"/></g>
<line x1="287.90" y1="180.00" x2="287.90" y2="279.50" stroke="#000" stroke-width="0.9" />
<path d="M287.9 176.8 L289.6 182 L286.2 182 Z" fill="#000"/>
<text transform="translate(290.8,295.9) rotate(-90)" font-size="8.2" fill="#111" stroke="#111" stroke-width="0.1" text-anchor="middle">FOXP3</text>
<text x="297.80" y="322.60" font-size="8.2" text-anchor="start" font-weight="normal" fill="#111" stroke="#111" stroke-width="0.14" >FSc</text>
<line x1="319.00" y1="319.80" x2="481.00" y2="319.80" stroke="#000" stroke-width="0.9" />
<path d="M485 319.8 L479.5 318.1 L479.5 321.5 Z" fill="#000"/>
</svg>
</body></html>
